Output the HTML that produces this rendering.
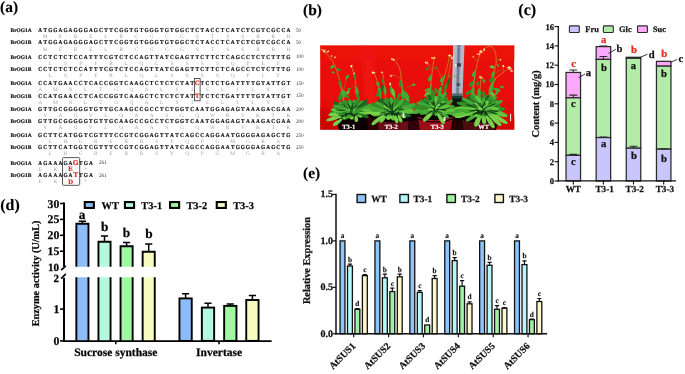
<!DOCTYPE html>
<html lang="en"><head><meta charset="utf-8"><title>Figure</title>
<style>
html,body{margin:0;padding:0;background:#fff;}
body{width:685px;height:374px;overflow:hidden;}
svg{display:block;}
text{font-family:"Liberation Serif","Times New Roman",serif;font-weight:bold;fill:#111;text-rendering:geometricPrecision;}
.pl{font-size:15.4px;fill:#000;stroke:#000;stroke-width:0.15px;}
.ct,.cx,.cy,.cl,.cb,.dt,.dx,.dy,.dl,.db,.et,.ex,.ey,.el{stroke:#111;stroke-width:0.25px;}
.cr{stroke:#f0281c;stroke-width:0.25px;}
.eb{stroke:#111;stroke-width:0.15px;}
.sq,.sl{stroke:#111;stroke-width:0.2px;}
.sqr,.sqR,.aaR{stroke:#e8201c;stroke-width:0.2px;}
.sl{font-size:5.4px;fill:#111;}
.sq{font-size:6.1px;text-anchor:middle;fill:#111;}
.sqr{font-size:6.6px;text-anchor:middle;fill:#e8201c;}
.sqR{font-size:7.4px;text-anchor:middle;fill:#e8201c;}
.aa{font-size:5.4px;text-anchor:middle;font-weight:normal;fill:#a2a2a2;}
.aaR{font-size:6.7px;text-anchor:middle;fill:#e8201c;}
.nm{font-size:5.2px;font-weight:normal;fill:#333;}
.ct{font-size:8.6px;text-anchor:end;}
.cx{font-size:9.2px;text-anchor:middle;}
.cy{font-size:10.4px;text-anchor:middle;}
.cl{font-size:8.4px;}
.cr{font-size:10.6px;text-anchor:middle;fill:#f0281c;}
.cb{font-size:10.6px;text-anchor:middle;}
.dt{font-size:11.8px;text-anchor:end;fill:#000;}
.dx{font-size:11.5px;text-anchor:middle;fill:#000;}
.dy{font-size:10.3px;text-anchor:middle;fill:#000;}
.dl{font-size:10.4px;fill:#000;}
.db{font-size:13.3px;text-anchor:middle;fill:#000;}
.et{font-size:10px;text-anchor:end;}
.ex{font-size:9.7px;text-anchor:end;}
.ey{font-size:10.3px;text-anchor:middle;}
.el{font-size:9.4px;}
.eb{font-size:7.3px;text-anchor:middle;}
.ph{font-size:6.5px;fill:#fff;text-anchor:middle;stroke:#fff;stroke-width:0.2px;}
</style></head><body>
<svg width="685" height="374" viewBox="0 0 685 374">
<rect x="0" y="0" width="685" height="374" fill="#fff"/>
<g id="panel-a">
<text class="pl" x="0.1" y="11.6">(a)</text>
<text class="sl" x="10.6" y="31.9">BrOG1A</text>
<text class="sq" transform="scale(0.87 1)" y="31.9" x="46.15 51.97 57.8 63.62 69.45 75.27 81.09 86.92 92.74 98.57 104.39 110.21 116.04 121.86 127.69 133.51 139.34 145.16 150.98 156.81 162.63 168.46 174.28 180.1 185.93 191.75 197.58 203.4 209.23 215.05 220.87 226.7 232.52 238.35 244.17 249.99 255.82 261.64 267.47 273.29 279.11 284.94 290.76 296.59 302.41 308.24 314.06 319.88 325.71 331.53">ATGGAGAGGGAGCTTCGGTGTGGGTGTGGCTCTACCTCATCTCGTCGCCA</text>
<text class="aa" y="38" x="45.22 60.42 75.62 90.82 106.02 121.22 136.42 151.62 166.83 182.03 197.23 212.43 227.63 242.83 258.03 273.23 288.43">MERELRCGCGSTSSRRH</text>
<text class="nm" x="295.9" y="31.7">50</text>
<text class="sl" x="10.6" y="44.4">BrOG1B</text>
<text class="sq" transform="scale(0.87 1)" y="44.4" x="46.15 51.97 57.8 63.62 69.45 75.27 81.09 86.92 92.74 98.57 104.39 110.21 116.04 121.86 127.69 133.51 139.34 145.16 150.98 156.81 162.63 168.46 174.28 180.1 185.93 191.75 197.58 203.4 209.23 215.05 220.87 226.7 232.52 238.35 244.17 249.99 255.82 261.64 267.47 273.29 279.11 284.94 290.76 296.59 302.41 308.24 314.06 319.88 325.71 331.53">ATGGAGAGGGAGCTTCGGTGTGGGTGTGGCTCTACCTCATCTCGTCGCCA</text>
<text class="aa" y="50.5" x="45.22 60.42 75.62 90.82 106.02 121.22 136.42 151.62 166.83 182.03 197.23 212.43 227.63 242.83 258.03 273.23 288.43">MERELRCGCGSTSSRRH</text>
<text class="nm" x="295.9" y="44.2">50</text>
<text class="sl" x="10.6" y="58.6">BrOG1A</text>
<text class="sq" transform="scale(0.87 1)" y="58.6" x="46.15 51.97 57.8 63.62 69.45 75.27 81.09 86.92 92.74 98.57 104.39 110.21 116.04 121.86 127.69 133.51 139.34 145.16 150.98 156.81 162.63 168.46 174.28 180.1 185.93 191.75 197.58 203.4 209.23 215.05 220.87 226.7 232.52 238.35 244.17 249.99 255.82 261.64 267.47 273.29 279.11 284.94 290.76 296.59 302.41 308.24 314.06 319.88 325.71 331.53">CCTCTCTCCATTTCGTCTCCAGTTATCGAGTTCTTCTCAGCCTCTCTTTG</text>
<text class="aa" y="64.7" x="50.28 65.48 80.69 95.89 111.09 126.29 141.49 156.69 171.89 187.09 202.29 217.5 232.7 247.9 263.1 278.3">LSPFRLQLSSSSQPLF</text>
<text class="nm" x="295.9" y="58.4">100</text>
<text class="sl" x="10.6" y="71.1">BrOG1B</text>
<text class="sq" transform="scale(0.87 1)" y="71.1" x="46.15 51.97 57.8 63.62 69.45 75.27 81.09 86.92 92.74 98.57 104.39 110.21 116.04 121.86 127.69 133.51 139.34 145.16 150.98 156.81 162.63 168.46 174.28 180.1 185.93 191.75 197.58 203.4 209.23 215.05 220.87 226.7 232.52 238.35 244.17 249.99 255.82 261.64 267.47 273.29 279.11 284.94 290.76 296.59 302.41 308.24 314.06 319.88 325.71 331.53">CCTCTCTCCATTTCGTCTCCAGTTATCGAGTTCTTCTCAGCCTCTCTTTG</text>
<text class="aa" y="77.2" x="50.28 65.48 80.69 95.89 111.09 126.29 141.49 156.69 171.89 187.09 202.29 217.5 232.7 247.9 263.1 278.3">LSPFRLQLSSSSQPLF</text>
<text class="nm" x="295.9" y="70.9">100</text>
<text class="sl" x="10.6" y="85.1">BrOG1A</text>
<text class="sq" transform="scale(0.87 1)" y="85.1" x="46.15 51.97 57.8 63.62 69.45 75.27 81.09 86.92 92.74 98.57 104.39 110.21 116.04 121.86 127.69 133.51 139.34 145.16 150.98 156.81 162.63 168.46 174.28 180.1 185.93 191.75 197.58 203.4 209.23 215.05 220.87 226.7 232.52 238.35 244.17 249.99 255.82 261.64 267.47 273.29 279.11 284.94 290.76 296.59 302.41 308.24 314.06 319.88 325.71 331.53">CCATGAACCTCACCGGTCAAGCTCTCTCTAT&#160;TCTCTGATTTTGTATTGT</text>
<text class="sqr" x="197.23" y="85.1">C</text>
<text class="aa" y="91.2" x="40.15 55.35 70.55 85.75 100.95 116.16 131.36 146.56 161.76 176.96 192.16 207.36 222.56 237.76 252.96 268.17 283.37">AMNLTGQALSISLILYC</text>
<text class="nm" x="295.9" y="84.9">150</text>
<text class="sl" x="10.6" y="97.6">BrOG1B</text>
<text class="sq" transform="scale(0.87 1)" y="97.6" x="46.15 51.97 57.8 63.62 69.45 75.27 81.09 86.92 92.74 98.57 104.39 110.21 116.04 121.86 127.69 133.51 139.34 145.16 150.98 156.81 162.63 168.46 174.28 180.1 185.93 191.75 197.58 203.4 209.23 215.05 220.87 226.7 232.52 238.35 244.17 249.99 255.82 261.64 267.47 273.29 279.11 284.94 290.76 296.59 302.41 308.24 314.06 319.88 325.71 331.53">CCATGAACCTCACCGGTCAAGCTCTCTCTAT&#160;TCTCTGATTTTGTATTGT</text>
<text class="sqr" x="197.23" y="97.6">T</text>
<text class="aa" y="103.7" x="40.15 55.35 70.55 85.75 100.95 116.16 131.36 146.56 161.76 176.96 192.16 207.36 222.56 237.76 252.96 268.17 283.37">AMNLTGQALSISLILYC</text>
<text class="nm" x="295.9" y="97.4">150</text>
<text class="sl" x="10.6" y="110.8">BrOG1A</text>
<text class="sq" transform="scale(0.87 1)" y="110.8" x="46.15 51.97 57.8 63.62 69.45 75.27 81.09 86.92 92.74 98.57 104.39 110.21 116.04 121.86 127.69 133.51 139.34 145.16 150.98 156.81 162.63 168.46 174.28 180.1 185.93 191.75 197.58 203.4 209.23 215.05 220.87 226.7 232.52 238.35 244.17 249.99 255.82 261.64 267.47 273.29 279.11 284.94 290.76 296.59 302.41 308.24 314.06 319.88 325.71 331.53">GTTGCGGGGGTGTTGCAAGCCGCCTCTGGTCAATGGAGAGTAAAGACGAA</text>
<text class="aa" y="116.9" x="45.22 60.42 75.62 90.82 106.02 121.22 136.42 151.62 166.83 182.03 197.23 212.43 227.63 242.83 258.03 273.23 288.43">VAGVLQAASGQWRVKTK</text>
<text class="nm" x="295.9" y="110.6">200</text>
<text class="sl" x="10.6" y="123.3">BrOG1B</text>
<text class="sq" transform="scale(0.87 1)" y="123.3" x="46.15 51.97 57.8 63.62 69.45 75.27 81.09 86.92 92.74 98.57 104.39 110.21 116.04 121.86 127.69 133.51 139.34 145.16 150.98 156.81 162.63 168.46 174.28 180.1 185.93 191.75 197.58 203.4 209.23 215.05 220.87 226.7 232.52 238.35 244.17 249.99 255.82 261.64 267.47 273.29 279.11 284.94 290.76 296.59 302.41 308.24 314.06 319.88 325.71 331.53">GTTGCGGGGGTGTTGCAAGCCGCCTCTGGTCAATGGAGAGTAAAGACGAA</text>
<text class="aa" y="129.4" x="45.22 60.42 75.62 90.82 106.02 121.22 136.42 151.62 166.83 182.03 197.23 212.43 227.63 242.83 258.03 273.23 288.43">VAGVLQAASGQWRVKTK</text>
<text class="nm" x="295.9" y="123.1">200</text>
<text class="sl" x="10.6" y="136.8">BrOG1A</text>
<text class="sq" transform="scale(0.87 1)" y="136.8" x="46.15 51.97 57.8 63.62 69.45 75.27 81.09 86.92 92.74 98.57 104.39 110.21 116.04 121.86 127.69 133.51 139.34 145.16 150.98 156.81 162.63 168.46 174.28 180.1 185.93 191.75 197.58 203.4 209.23 215.05 220.87 226.7 232.52 238.35 244.17 249.99 255.82 261.64 267.47 273.29 279.11 284.94 290.76 296.59 302.41 308.24 314.06 319.88 325.71 331.53">GCTTCATGGTCGTTTCCGTCGGAGTTATCAGCCAGGAATGGGGAGAGCTG</text>
<text class="aa" y="142.9" x="50.28 65.48 80.69 95.89 111.09 126.29 141.49 156.69 171.89 187.09 202.29 217.5 232.7 247.9 263.1 278.3">LHGRFRRSYQPGMGRA</text>
<text class="nm" x="295.9" y="136.6">250</text>
<text class="sl" x="10.6" y="149.3">BrOG1B</text>
<text class="sq" transform="scale(0.87 1)" y="149.3" x="46.15 51.97 57.8 63.62 69.45 75.27 81.09 86.92 92.74 98.57 104.39 110.21 116.04 121.86 127.69 133.51 139.34 145.16 150.98 156.81 162.63 168.46 174.28 180.1 185.93 191.75 197.58 203.4 209.23 215.05 220.87 226.7 232.52 238.35 244.17 249.99 255.82 261.64 267.47 273.29 279.11 284.94 290.76 296.59 302.41 308.24 314.06 319.88 325.71 331.53">GCTTCATGGTCGTTTCCGTCGGAGTTATCAGCCAGGAATGGGGAGAGCTG</text>
<text class="aa" y="155.4" x="50.28 65.48 80.69 95.89 111.09 126.29 141.49 156.69 171.89 187.09 202.29 217.5 232.7 247.9 263.1 278.3">LHGRFRRSYQPGMGRA</text>
<text class="nm" x="295.9" y="149.1">250</text>
<text class="sl" x="10.6" y="164.6">BrOG1A</text>
<text class="sq" transform="scale(0.87 1)" y="164.6" x="46.15 51.97 57.8 63.62 69.45 75.27 81.09 86.92 92.74 98.57 104.39">AGAAAGA&#160;TGA</text>
<text class="sqR" x="75.62" y="164.9">G</text>
<text class="aa" y="170.7" x="40.15 55.35 85.75">EK*</text>
<text class="aaR" x="70.55" y="171.4">E</text>
<text class="nm" x="98.9" y="164.4">261</text>
<text class="sl" x="10.6" y="177.1">BrOG1B</text>
<text class="sq" transform="scale(0.87 1)" y="177.1" x="46.15 51.97 57.8 63.62 69.45 75.27 81.09 86.92 92.74 98.57 104.39">AGAAAGA&#160;TGA</text>
<text class="sqR" x="75.62" y="177.4">T</text>
<text class="aa" y="183.2" x="40.15 55.35 85.75">EK*</text>
<text class="aaR" x="70.55" y="183.9">D</text>
<text class="nm" x="98.9" y="176.9">261</text>
<rect x="194.5" y="78.4" width="5.6" height="22.4" fill="none" stroke="#333" stroke-width="0.8"/>
<rect x="62.5" y="157.6" width="17.2" height="27.7" rx="1" fill="none" stroke="#444" stroke-width="0.9"/>
</g>
<g id="panel-b">
<text class="pl" x="303.0" y="14.6">(b)</text>
<defs>
<linearGradient id="redbg" x1="0" y1="0" x2="0" y2="1"><stop offset="0" stop-color="#ea0f0c"/><stop offset="0.6" stop-color="#e80d0a"/><stop offset="1" stop-color="#d60a08"/></linearGradient>
<clipPath id="phclip"><rect x="320.1" y="45.3" width="194.2" height="84.5"/></clipPath>
<filter id="bl" x="-10%" y="-10%" width="120%" height="120%"><feGaussianBlur stdDeviation="0.5"/></filter>
<filter id="bl2" x="-30%" y="-30%" width="160%" height="160%"><feGaussianBlur stdDeviation="2"/></filter>
</defs>
<g clip-path="url(#phclip)">
<rect x="320.1" y="45.3" width="194.2" height="84.5" fill="url(#redbg)"/>
<g filter="url(#bl)">
<path d="M361 45L373 45L379 130L367 130Z" fill="#fa2a22" opacity="0.3" filter="url(#bl2)"/>
<path d="M320 45H515V60H320Z" fill="#f01410" opacity="0.3"/>
<path d="M318 106L342 117L342 132L318 132Z" fill="#c00606" opacity="0.6" filter="url(#bl2)"/>
<path d="M497 121L516 116V132H497Z" fill="#cc0a08" opacity="0.5" filter="url(#bl2)"/>
<path d="M453.3 45L464.5 45L462.3 101L451.9 101Z" fill="#b2b8ca"/>
<path d="M457.6 45L460.2 45L458.6 100L456.2 100Z" fill="#6c748c" opacity="0.75"/>
<path d="M453.3 45L454.6 45L453.1 100L451.9 100Z" fill="#c8ccd8" opacity="0.8"/>
<path d="M457.1 46.5H460.7" stroke="#4a5270" stroke-width="0.7" opacity="0.6"/>
<path d="M457 48.6H460.6" stroke="#4a5270" stroke-width="0.7" opacity="0.6"/>
<path d="M456.9 50.7H460.5" stroke="#4a5270" stroke-width="0.7" opacity="0.6"/>
<path d="M456.9 52.8H460.5" stroke="#4a5270" stroke-width="0.7" opacity="0.6"/>
<path d="M456.8 54.9H460.4" stroke="#4a5270" stroke-width="0.7" opacity="0.6"/>
<path d="M456.7 57H460.3" stroke="#4a5270" stroke-width="0.7" opacity="0.6"/>
<path d="M456.7 59.1H460.3" stroke="#4a5270" stroke-width="0.7" opacity="0.6"/>
<path d="M456.6 61.2H460.2" stroke="#4a5270" stroke-width="0.7" opacity="0.6"/>
<path d="M456.6 63.3H460.2" stroke="#4a5270" stroke-width="0.7" opacity="0.6"/>
<path d="M456.5 65.4H460.1" stroke="#4a5270" stroke-width="0.7" opacity="0.6"/>
<path d="M456.4 67.5H460" stroke="#4a5270" stroke-width="0.7" opacity="0.6"/>
<path d="M456.4 69.6H460" stroke="#4a5270" stroke-width="0.7" opacity="0.6"/>
<path d="M456.3 71.7H459.9" stroke="#4a5270" stroke-width="0.7" opacity="0.6"/>
<path d="M456.2 73.8H459.8" stroke="#4a5270" stroke-width="0.7" opacity="0.6"/>
<path d="M456.2 75.9H459.8" stroke="#4a5270" stroke-width="0.7" opacity="0.6"/>
<path d="M456.1 78H459.7" stroke="#4a5270" stroke-width="0.7" opacity="0.6"/>
<path d="M456 80.1H459.6" stroke="#4a5270" stroke-width="0.7" opacity="0.6"/>
<path d="M456 82.2H459.6" stroke="#4a5270" stroke-width="0.7" opacity="0.6"/>
<path d="M455.9 84.3H459.5" stroke="#4a5270" stroke-width="0.7" opacity="0.6"/>
<path d="M455.9 86.4H459.5" stroke="#4a5270" stroke-width="0.7" opacity="0.6"/>
<path d="M455.8 88.5H459.4" stroke="#4a5270" stroke-width="0.7" opacity="0.6"/>
<path d="M455.7 90.6H459.3" stroke="#4a5270" stroke-width="0.7" opacity="0.6"/>
<path d="M455.7 92.7H459.3" stroke="#4a5270" stroke-width="0.7" opacity="0.6"/>
<path d="M455.6 94.8H459.2" stroke="#4a5270" stroke-width="0.7" opacity="0.6"/>
<path d="M455.5 96.9H459.1" stroke="#4a5270" stroke-width="0.7" opacity="0.6"/>
<path d="M455.5 99H459.1" stroke="#4a5270" stroke-width="0.7" opacity="0.6"/>
<rect x="457" y="63.2" width="4" height="3.4" fill="#2c3048" opacity="0.85"/>
<rect x="456.6" y="83" width="3.6" height="3" fill="#2c3048" opacity="0.6"/>
<path d="M452.1 93.5L462.4 93.5L462.2 100L451.9 100Z" fill="#4a6a68"/>
<path d="M452 96L462.3 96L462 108L451.8 108Z" fill="#163a30"/>
<path d="M452 98.5L462.2 98.5L462 112L451.8 112Z" fill="#0a1410"/>
<path d="M337 119Q345 113 356 112L480 111Q492 112 498 119L496 131H339Z" fill="#0a0505"/>
<path d="M366 117L378 119L380 131H369Z" fill="#2c0506"/>
<path d="M377.5 121Q393 124.5 409 121L407.5 131H379Z" fill="#6a0c12"/>
<path d="M409.5 121L417.5 120L419.5 131H408Z" fill="#300608"/>
<path d="M418 119.5Q435 126 452.5 119.5L450.5 131H420Z" fill="#9c1018"/>
<path d="M417.5 117.5Q435 124.5 453 117.5" fill="none" stroke="#c01c24" stroke-width="1"/>
<path d="M453 120L461.5 121L463.5 131H451Z" fill="#260506"/>
<path d="M462 120Q479 125 496 120L494 131H464Z" fill="#4c0a0e"/>
<path d="M322.9 50.4C324.4 52 329.7 56.5 332 60C334.3 63.5 335.5 67.5 336.8 71.3C338.1 75 339.5 80.6 340 82.5" fill="none" stroke="#d07c24" stroke-width="0.9" stroke-linecap="round"/>
<path d="M340 82.5C340.4 84.4 341.8 90.5 342.5 93.7C343.2 97 343.8 100.6 344 102" fill="none" stroke="#74a832" stroke-width="1.3" stroke-linecap="round"/>
<path d="M342.3 93C342.8 91.7 344.3 87.5 345 85C345.7 82.5 346.2 78.9 346.5 77.7" fill="none" stroke="#5a9a2c" stroke-width="0.6" stroke-linecap="round"/>
<path d="M351.3 65.7C351.8 67.4 353.7 72.4 354.5 76C355.3 79.6 355.8 85.4 356.1 87.3" fill="none" stroke="#d07c24" stroke-width="0.9" stroke-linecap="round"/>
<path d="M356.1 87.3L358.2 101" fill="none" stroke="#74a832" stroke-width="1.3" stroke-linecap="round"/>
<path d="M356 88C355.4 87.7 353.3 86.7 352.5 86C351.7 85.3 351.2 84.3 351 84" fill="none" stroke="#5a9a2c" stroke-width="0.5" stroke-linecap="round"/>
<path d="M330 68.6C332.4 69.2 335.7 67.2 334.4 65.5C333.3 63.7 330.3 66.1 330 68.6Z" fill="#44aa34"/>
<path d="M336.2 68.4C336.8 70.5 339.8 72.2 340.6 70.4C341.4 68.8 338.2 67.5 336.2 68.4Z" fill="#33902c"/>
<path d="M335 73.2C334.5 71.5 332.1 70.5 331.6 72C331 73.4 333.5 74.1 335 73.2Z" fill="#44aa34"/>
<path d="M345.5 79.5C347.8 79.1 350.2 76.1 348.6 75.1C347.1 73.9 345.1 77.2 345.5 79.5Z" fill="#44aa34"/>
<path d="M339.2 79.5C337.8 82.1 338.9 87.2 341.1 86.5C343.3 86 341.7 81.1 339.2 79.5Z" fill="#33902c"/>
<path d="M343.2 89.5C342 92.6 343.8 98.4 346.1 97.4C348.5 96.7 346.2 91.1 343.2 89.5Z" fill="#44aa34"/>
<path d="M341.5 95C339.1 96.1 337.4 100 339.4 100.6C341.4 101.5 342.6 97.3 341.5 95Z" fill="#33902c"/>
<path d="M354.3 73.5C353 75.6 353.5 79.9 355.3 79.4C357.2 79.2 356.3 75 354.3 73.5Z" fill="#33902c"/>
<path d="M355.8 86C354.2 88.8 355 94.8 357.3 94.3C359.6 94 358.3 88.1 355.8 86Z" fill="#44aa34"/>
<path d="M351 88.3C349.5 87.4 347 88.2 347.6 89.5C348.1 90.9 350.4 89.9 351 88.3Z" fill="#44aa34"/>
<circle cx="321.9" cy="49.5" r="0.8" fill="#e8c860"/>
<circle cx="324.1" cy="51.8" r="0.5" fill="#f6e9a8"/>
<circle cx="323.8" cy="51" r="0.9" fill="#f2d878"/>
<circle cx="324.6" cy="51.8" r="0.8" fill="#fff4d0"/>
<circle cx="323" cy="50.3" r="0.6" fill="#f6e9a8"/>
<circle cx="325" cy="50" r="0.7" fill="#f6e9a8"/>
<circle cx="327.1" cy="52" r="0.8" fill="#e8c860"/>
<circle cx="328.6" cy="51.2" r="0.7" fill="#fff4d0"/>
<circle cx="327.2" cy="51.6" r="0.6" fill="#f2d878"/>
<circle cx="331.7" cy="56.1" r="0.6" fill="#f6e9a8"/>
<circle cx="331.5" cy="55.9" r="0.7" fill="#f2d878"/>
<circle cx="335" cy="57.8" r="0.5" fill="#f2d878"/>
<circle cx="335" cy="57.2" r="0.8" fill="#fff4d0"/>
<circle cx="351.8" cy="65.8" r="0.7" fill="#fff4d0"/>
<circle cx="351.3" cy="66.4" r="0.7" fill="#f2d878"/>
<circle cx="351.6" cy="67.1" r="0.6" fill="#e8c860"/>
<circle cx="351.7" cy="65.9" r="0.6" fill="#e8c860"/>
<circle cx="351.2" cy="66.1" r="0.9" fill="#f6e9a8"/>
<circle cx="354.4" cy="73.1" r="0.6" fill="#fff4d0"/>
<circle cx="353.7" cy="73.8" r="0.6" fill="#fff4d0"/>
<path d="M373.8 72.1C374.5 73.8 376.7 79.2 377.8 82.5C378.9 85.8 379.8 90.5 380.2 92.1" fill="none" stroke="#d07c24" stroke-width="0.9" stroke-linecap="round"/>
<path d="M380.2 92.1L381 102" fill="none" stroke="#74a832" stroke-width="1.3" stroke-linecap="round"/>
<path d="M382.6 72.1C382.9 74.4 383.8 81.2 384.3 85.7C384.9 90.2 385.6 96.8 385.9 99" fill="none" stroke="#b4a030" stroke-width="0.7" stroke-linecap="round"/>
<path d="M393.6 59.2C394.6 60.7 398.2 64.4 399.5 68C400.8 71.6 401.2 78.8 401.6 80.9" fill="none" stroke="#d07c24" stroke-width="0.9" stroke-linecap="round"/>
<path d="M401.6 80.9C401.8 83 402.5 90.4 402.7 93.7C402.9 97 402.7 99.8 402.7 101" fill="none" stroke="#74a832" stroke-width="1.3" stroke-linecap="round"/>
<path d="M389.9 83.3C390.4 84.8 392.1 88.9 393 92C393.9 95.1 395.1 100.3 395.5 102" fill="none" stroke="#b4a030" stroke-width="0.7" stroke-linecap="round"/>
<path d="M390.7 75.3C391.6 75.4 394.4 75.4 396 76C397.6 76.6 399.8 78.5 400.6 79" fill="none" stroke="#d07c24" stroke-width="0.5" stroke-linecap="round"/>
<path d="M403.2 91C404 90.3 406.4 88 408 87C409.6 86 412.2 85.2 413.1 84.9" fill="none" stroke="#5a9a2c" stroke-width="0.6" stroke-linecap="round"/>
<path d="M396.5 60L399 57.5" fill="none" stroke="#d07c24" stroke-width="0.5" stroke-linecap="round"/>
<path d="M377.2 80.5C375.7 82.6 376.2 86.9 378.2 86.4C380.3 86.2 379.3 81.9 377.2 80.5Z" fill="#44aa34"/>
<path d="M381.4 84C379.8 86.7 380.9 91.7 383.3 91C385.7 90.4 384.1 85.5 381.4 84Z" fill="#1c6622"/>
<path d="M383.5 78C381.8 79.2 381 82.5 382.7 82.7C384.3 83.1 384.7 79.7 383.5 78Z" fill="#33902c"/>
<path d="M390.4 86.5C388.9 89.9 390.8 96.1 393.5 95C396.3 94.1 393.8 88.1 390.4 86.5Z" fill="#44aa34"/>
<path d="M400.2 79.5C398.4 81.8 398.5 87 400.8 86.7C403.1 86.6 402.4 81.5 400.2 79.5Z" fill="#33902c"/>
<path d="M403.5 90.5C402.8 94.5 406.2 101 408.6 99.3C411.2 98 407.3 91.8 403.5 90.5Z" fill="#44aa34"/>
<path d="M411.5 85.6C413.3 86.7 416.2 85.9 415.4 84.2C414.9 82.4 412.1 83.6 411.5 85.6Z" fill="#44aa34"/>
<circle cx="373" cy="72.9" r="0.8" fill="#f6e9a8"/>
<circle cx="374.1" cy="72.4" r="0.6" fill="#f2d878"/>
<circle cx="372.6" cy="72.5" r="0.9" fill="#f6e9a8"/>
<circle cx="374.9" cy="72.8" r="0.5" fill="#fff4d0"/>
<circle cx="374" cy="72.6" r="0.7" fill="#f2d878"/>
<circle cx="381.5" cy="72.5" r="0.6" fill="#fff4d0"/>
<circle cx="381.9" cy="72.3" r="0.8" fill="#f6e9a8"/>
<circle cx="393.8" cy="59.5" r="0.8" fill="#f6e9a8"/>
<circle cx="391.9" cy="58.9" r="0.8" fill="#fff4d0"/>
<circle cx="392" cy="59.7" r="0.6" fill="#f2d878"/>
<circle cx="393.4" cy="59.2" r="0.5" fill="#f6e9a8"/>
<circle cx="393.3" cy="60.5" r="0.6" fill="#f6e9a8"/>
<circle cx="390.5" cy="83.4" r="0.6" fill="#e8c860"/>
<circle cx="390.3" cy="84.9" r="0.6" fill="#fff4d0"/>
<circle cx="389.6" cy="84.2" r="0.6" fill="#fff4d0"/>
<circle cx="390.8" cy="83.8" r="0.5" fill="#e8c860"/>
<circle cx="390.1" cy="83.2" r="0.8" fill="#f2d878"/>
<circle cx="390.8" cy="76" r="0.9" fill="#f2d878"/>
<circle cx="391.8" cy="75.5" r="0.7" fill="#e8c860"/>
<path d="M434 58.4C433.8 60.3 433 65.4 432.5 69.7C432 74 431.2 81.7 430.9 84.1" fill="none" stroke="#d07c24" stroke-width="0.9" stroke-linecap="round"/>
<path d="M430.9 84.1L430 101" fill="none" stroke="#74a832" stroke-width="1.3" stroke-linecap="round"/>
<path d="M432.3 71C431.8 70 429.9 66.4 429 65C428.1 63.6 427.2 62.8 426.8 62.4" fill="none" stroke="#d07c24" stroke-width="0.5" stroke-linecap="round"/>
<path d="M449.3 55.2C449 56.8 448.5 61.4 447.7 64.9C446.9 68.4 445 74.2 444.5 76" fill="none" stroke="#d07c24" stroke-width="0.9" stroke-linecap="round"/>
<path d="M444.5 76C444 77.9 442.4 83.6 441.3 87.3C440.2 91 438.6 96.2 438 98" fill="none" stroke="#74a832" stroke-width="1.3" stroke-linecap="round"/>
<path d="M451.7 56.8C451.2 60 449.7 70 448.5 76C447.3 82 445.2 90.2 444.5 93" fill="none" stroke="#b4a030" stroke-width="0.6" stroke-linecap="round"/>
<path d="M446 76C447.2 76 450.6 76.1 453 76.3C455.4 76.5 459.2 76.9 460.5 77" fill="none" stroke="#5a9a2c" stroke-width="0.5" stroke-linecap="round"/>
<path d="M436.5 67.3C437 68.2 438.6 71.1 439.5 73C440.4 74.9 441.6 77.6 442 78.5" fill="none" stroke="#d07c24" stroke-width="0.5" stroke-linecap="round"/>
<path d="M431.6 74C428.9 75.5 426.7 80.7 428.9 81.3C431 82.3 432.7 76.9 431.6 74Z" fill="#44aa34"/>
<path d="M428.2 66.5C426.5 67.2 425.3 70 426.8 70.4C428.2 71.1 429.1 68.2 428.2 66.5Z" fill="#33902c"/>
<path d="M430.5 88C427.9 87.4 423.6 89.5 424.8 91.3C425.7 93.2 429.7 90.6 430.5 88Z" fill="#44aa34"/>
<path d="M434.5 87.5C433.8 90 435.7 93.9 437.5 92.7C439.4 91.8 437 88.1 434.5 87.5Z" fill="#33902c"/>
<path d="M441.3 85C438.9 86.8 437.7 91.8 440 92.1C442.3 92.6 442.9 87.5 441.3 85Z" fill="#1c6622"/>
<path d="M442.4 76.5C440.3 77.8 439 81.9 440.8 82.3C442.6 82.9 443.6 78.7 442.4 76.5Z" fill="#44aa34"/>
<path d="M448.5 78.5C446.7 80.1 446.1 84.4 448 84.5C449.8 84.8 450 80.4 448.5 78.5Z" fill="#1c6622"/>
<path d="M444 90C442.9 92.3 444.1 96.5 446.1 95.6C448.1 95 446.4 91.1 444 90Z" fill="#33902c"/>
<path d="M436.3 66C434.7 66.6 433.7 68.9 435.1 69.4C436.4 70 437.2 67.5 436.3 66Z" fill="#33902c"/>
<circle cx="432" cy="57.9" r="0.9" fill="#f2d878"/>
<circle cx="433.1" cy="57.6" r="0.6" fill="#e8c860"/>
<circle cx="434.9" cy="57.4" r="0.7" fill="#fff4d0"/>
<circle cx="433.5" cy="58.4" r="0.7" fill="#f2d878"/>
<circle cx="434" cy="58.3" r="0.9" fill="#e8c860"/>
<circle cx="427.9" cy="62" r="0.6" fill="#f2d878"/>
<circle cx="427.2" cy="63.8" r="0.6" fill="#f2d878"/>
<circle cx="427.1" cy="63" r="0.7" fill="#f6e9a8"/>
<circle cx="425.7" cy="62.5" r="0.9" fill="#f6e9a8"/>
<circle cx="450.5" cy="55.6" r="0.6" fill="#f6e9a8"/>
<circle cx="449.8" cy="55.8" r="0.9" fill="#f6e9a8"/>
<circle cx="449.5" cy="54.8" r="0.5" fill="#fff4d0"/>
<circle cx="451.7" cy="56.2" r="0.6" fill="#f2d878"/>
<circle cx="448.6" cy="55.6" r="0.5" fill="#f6e9a8"/>
<circle cx="451.6" cy="58.2" r="0.7" fill="#f2d878"/>
<circle cx="451.4" cy="58.3" r="0.9" fill="#e8c860"/>
<circle cx="452.7" cy="57.7" r="0.8" fill="#f6e9a8"/>
<circle cx="452.8" cy="58.2" r="0.6" fill="#fff4d0"/>
<circle cx="455.8" cy="65.2" r="0.6" fill="#fff4d0"/>
<circle cx="455.6" cy="66.4" r="0.8" fill="#f2d878"/>
<circle cx="455.6" cy="65" r="0.9" fill="#fff4d0"/>
<circle cx="460.4" cy="76.5" r="0.7" fill="#fff4d0"/>
<circle cx="460.7" cy="76.6" r="0.6" fill="#e8c860"/>
<path d="M480.9 51.2C480.4 52.9 478.6 58 477.7 61.6C476.8 65.2 475.7 71 475.3 72.9" fill="none" stroke="#d07c24" stroke-width="0.9" stroke-linecap="round"/>
<path d="M475.3 72.9C475 74.8 474.2 79.8 473.6 84.1C473.1 88.4 472.3 96.5 472 99" fill="none" stroke="#74a832" stroke-width="1.3" stroke-linecap="round"/>
<path d="M486 47.5C486.8 47.4 489.4 45.9 491 46.6C492.6 47.4 494.4 49.2 495.3 52C496.2 54.8 496.4 59.5 496.1 63.3C495.8 67 494.1 72.6 493.7 74.5" fill="none" stroke="#d07c24" stroke-width="0.9" stroke-linecap="round"/>
<path d="M493.7 74.5C493.3 76.4 492.1 81.6 491.3 85.7C490.5 89.8 489.3 96.8 488.9 99" fill="none" stroke="#74a832" stroke-width="1.3" stroke-linecap="round"/>
<path d="M509.7 67.3C508.5 68.2 504.9 71 502.5 72.9C500.1 74.8 496.5 77.6 495.3 78.5" fill="none" stroke="#d07c24" stroke-width="0.9" stroke-linecap="round"/>
<path d="M495.3 78.5L492 85.7" fill="none" stroke="#74a832" stroke-width="1.3" stroke-linecap="round"/>
<path d="M480.9 76.9C480.8 78.9 480.4 85 480 89C479.6 93 478.8 99 478.5 101" fill="none" stroke="#b4a030" stroke-width="0.7" stroke-linecap="round"/>
<path d="M477.7 61.6C477.2 61.1 475.4 59.4 474.5 58.5C473.6 57.6 472.9 56.8 472.6 56.5" fill="none" stroke="#d07c24" stroke-width="0.5" stroke-linecap="round"/>
<path d="M495.9 62C496.2 61.7 497.3 60.4 498 60C498.7 59.6 499.7 59.6 500 59.5" fill="none" stroke="#d07c24" stroke-width="0.5" stroke-linecap="round"/>
<path d="M493 75C493.7 74.5 495.8 72.8 497 72C498.2 71.2 499.9 70.8 500.5 70.5" fill="none" stroke="#5a9a2c" stroke-width="0.5" stroke-linecap="round"/>
<path d="M503 72.5C503.1 71.8 503.5 69.2 503.5 68C503.5 66.8 503.1 65.9 503 65.5" fill="none" stroke="#d07c24" stroke-width="0.5" stroke-linecap="round"/>
<path d="M475.2 70.5C472.6 71.7 470.7 76 472.9 76.7C475.1 77.6 476.4 73.1 475.2 70.5Z" fill="#44aa34"/>
<path d="M473.4 80.5C470.5 81.3 467.7 85.7 469.8 86.7C471.7 88 474.1 83.4 473.4 80.5Z" fill="#33902c"/>
<path d="M489.2 66.8C490.7 68.8 494.5 69.4 494.6 67.3C494.9 65.2 491 65.1 489.2 66.8Z" fill="#60c43e"/>
<path d="M493.6 71C491.2 72.6 490.2 77.2 492.5 77.5C494.7 78 495.3 73.3 493.6 71Z" fill="#44aa34"/>
<path d="M492.6 77C489.9 77.9 488.1 81.9 490.5 82.6C492.9 83.6 494.1 79.5 492.6 77Z" fill="#33902c"/>
<path d="M492.8 83C489.4 84.9 487.4 91.1 490.5 91.7C493.5 92.7 494.8 86.3 492.8 83Z" fill="#44aa34"/>
<path d="M493.5 88.5C494.8 91.2 499.6 93.2 500.3 91C501.2 88.8 496.2 87.3 493.5 88.5Z" fill="#44aa34"/>
<path d="M478.2 81C476.3 82.1 475.5 85.5 477.4 85.7C479.2 86.1 479.6 82.7 478.2 81Z" fill="#33902c"/>
<path d="M482.5 78.5C481.9 80.5 483.5 83.6 484.9 82.7C486.4 81.9 484.5 79 482.5 78.5Z" fill="#44aa34"/>
<path d="M499.5 86.5C500.5 88.2 503.4 88.9 503.6 87.2C504 85.6 501 85.3 499.5 86.5Z" fill="#44aa34"/>
<path d="M474.2 93C471.2 93.8 468.3 98.1 470.6 99.2C472.7 100.6 475.1 96 474.2 93Z" fill="#33902c"/>
<path d="M479.5 90C478 92.1 478.5 96.4 480.5 95.9C482.6 95.7 481.6 91.4 479.5 90Z" fill="#33902c"/>
<path d="M497 63.5C496.5 65 497.7 67.4 498.8 66.6C500 66 498.6 63.8 497 63.5Z" fill="#44aa34"/>
<circle cx="481.1" cy="52.3" r="0.6" fill="#fff4d0"/>
<circle cx="482.1" cy="52" r="0.7" fill="#f6e9a8"/>
<circle cx="480.9" cy="50.8" r="0.8" fill="#f6e9a8"/>
<circle cx="479.9" cy="51.7" r="0.9" fill="#f2d878"/>
<circle cx="480.8" cy="51.8" r="0.8" fill="#f2d878"/>
<circle cx="481.2" cy="51.6" r="0.6" fill="#f2d878"/>
<circle cx="484.6" cy="49.4" r="0.6" fill="#f6e9a8"/>
<circle cx="484.1" cy="49.2" r="0.9" fill="#f6e9a8"/>
<circle cx="484.1" cy="50.2" r="0.9" fill="#f2d878"/>
<circle cx="479.6" cy="53.9" r="0.6" fill="#fff4d0"/>
<circle cx="477.5" cy="54" r="0.8" fill="#f6e9a8"/>
<circle cx="479" cy="54.5" r="0.7" fill="#fff4d0"/>
<circle cx="473.5" cy="56.4" r="0.6" fill="#f2d878"/>
<circle cx="473.1" cy="57" r="0.6" fill="#e8c860"/>
<circle cx="509.3" cy="69" r="0.9" fill="#f6e9a8"/>
<circle cx="507.1" cy="67.4" r="0.6" fill="#e8c860"/>
<circle cx="509.9" cy="67.4" r="0.9" fill="#f2d878"/>
<circle cx="509" cy="67.2" r="0.9" fill="#fff4d0"/>
<circle cx="510.9" cy="68.6" r="0.8" fill="#f2d878"/>
<circle cx="509.2" cy="68.4" r="0.7" fill="#e8c860"/>
<circle cx="512.3" cy="71.4" r="0.6" fill="#e8c860"/>
<circle cx="511.5" cy="70.5" r="0.9" fill="#f6e9a8"/>
<circle cx="510.8" cy="71.3" r="0.5" fill="#e8c860"/>
<circle cx="503.1" cy="66.2" r="0.9" fill="#f2d878"/>
<circle cx="503.5" cy="65.3" r="0.6" fill="#e8c860"/>
<circle cx="503.7" cy="66.1" r="0.7" fill="#fff4d0"/>
<circle cx="500.7" cy="59.5" r="0.7" fill="#f2d878"/>
<circle cx="500.3" cy="60" r="0.7" fill="#f6e9a8"/>
<circle cx="482" cy="77.7" r="0.9" fill="#e8c860"/>
<circle cx="480.1" cy="77.2" r="0.9" fill="#f2d878"/>
<circle cx="480.1" cy="76.1" r="0.6" fill="#f2d878"/>
<circle cx="480.4" cy="77.5" r="0.7" fill="#f2d878"/>
<path d="M343.6 99C345.1 95.8 344.2 89 341.9 89.5C339.6 89.8 341.1 96.5 343.6 99Z" fill="#44aa34"/>
<path d="M340.8 92C338.5 94.2 337.2 100.1 339.3 100.3C341.4 100.8 342.2 94.8 340.8 92Z" fill="#33902c"/>
<path d="M345.5 96.5C348 95.5 350.8 91.1 349.1 90.3C347.5 89.2 345.1 93.8 345.5 96.5Z" fill="#60c43e"/>
<path d="M357.6 98C359.4 95 359 88 356.8 88.4C354.4 88.4 355.3 95.3 357.6 98Z" fill="#44aa34"/>
<path d="M356.6 93C355.6 95.7 357.1 100.6 359.1 99.8C361.1 99.2 359.1 94.4 356.6 93Z" fill="#33902c"/>
<path d="M349 99C349.5 96.6 347.6 92.8 346 93.8C344.3 94.6 346.7 98.3 349 99Z" fill="#33902c"/>
<path d="M380.6 97C382.1 93.8 381.2 87 378.9 87.5C376.6 87.8 378.1 94.5 380.6 97Z" fill="#44aa34"/>
<path d="M379.5 90C377 91.4 375 96.2 377 96.8C379 97.6 380.5 92.7 379.5 90Z" fill="#33902c"/>
<path d="M385.5 96C387.1 93 386.7 86.1 384.7 86.4C382.6 86.4 383.4 93.3 385.5 96Z" fill="#44aa34"/>
<path d="M394.8 98C396 94.7 394.5 87.9 392.3 88.7C390 89.1 392.1 95.7 394.8 98Z" fill="#60c43e"/>
<path d="M402.7 99C404.7 96.5 405 90.4 402.7 90.6C400.4 90.4 400.7 96.5 402.7 99Z" fill="#44aa34"/>
<path d="M403.4 95.5C403.6 98.9 407.7 103.3 409.3 101.4C411.2 99.8 406.8 95.7 403.4 95.5Z" fill="#44aa34"/>
<path d="M398 99C400.2 97.9 401.9 93.9 400.1 93.4C398.3 92.6 397 96.7 398 99Z" fill="#33902c"/>
<path d="M430.2 98C432.1 95.1 432.2 88.1 429.9 88.4C427.5 88.3 428.1 95.2 430.2 98Z" fill="#44aa34"/>
<path d="M429.5 91C426.7 91.5 423.2 95.3 424.9 96.5C426.4 98 429.5 93.9 429.5 91Z" fill="#60c43e"/>
<path d="M438.6 96C441.3 93.7 443.4 87.1 441.1 86.7C438.9 85.9 437.4 92.7 438.6 96Z" fill="#44aa34"/>
<path d="M444.8 92C447.1 89.9 448.6 84.1 446.5 83.8C444.5 83.2 443.5 89.1 444.8 92Z" fill="#33902c"/>
<path d="M441.5 92.5C438.8 93.8 436.8 98.6 439 99.3C441.2 100.2 442.7 95.2 441.5 92.5Z" fill="#44aa34"/>
<path d="M435 97C435.8 94.4 434.3 89.5 432.5 90.2C430.7 90.7 432.7 95.5 435 97Z" fill="#33902c"/>
<path d="M472.3 97C474.8 94.3 475.7 87.5 473.1 87.4C470.6 87 470.3 93.9 472.3 97Z" fill="#44aa34"/>
<path d="M471.6 90C468.6 89.8 464.5 93 466.1 94.6C467.5 96.5 471.3 93 471.6 90Z" fill="#33902c"/>
<path d="M478.8 98C480.9 95.2 481.5 88.3 479.1 88.4C476.8 88.1 476.9 95.1 478.8 98Z" fill="#44aa34"/>
<path d="M489.4 96.5C492.2 93.7 493.8 86.1 491.3 85.9C488.8 85.2 487.8 92.9 489.4 96.5Z" fill="#44aa34"/>
<path d="M490.8 91C490.1 93.9 492.5 98.5 494.4 97.2C496.5 96.2 493.7 91.8 490.8 91Z" fill="#60c43e"/>
<path d="M484 98C485.5 95.7 485.2 90.5 483.4 90.8C481.5 90.8 482.1 96 484 98Z" fill="#33902c"/>
<path d="M495 96C497.3 95.3 499.7 91.6 498 90.8C496.4 89.8 494.5 93.6 495 96Z" fill="#44aa34"/>
<path d="M349.5 111.4C344.8 111 336.7 115.4 338.4 117.8C339.8 120.6 347.5 115.6 349.5 111.4Z" fill="#44aa34"/>
<path d="M348.8 111.3C343.2 110.9 331.4 114.7 332.5 117C333 119.5 344.6 115.1 348.8 111.3Z" fill="#44aa34"/>
<path d="M348.4 110.8C342.4 109.4 328.8 110.9 329.4 113.3C329.4 115.7 343 113.7 348.4 110.8Z" fill="#33902c"/>
<path d="M348.6 110.5C343.2 107.8 330.3 107.4 330.7 110.4C330.3 113.4 343.2 113.1 348.6 110.5Z" fill="#1c6622"/>
<path d="M348.8 109.9C344.4 106.4 332.7 103.1 332.4 105.8C331.4 108.3 343.3 111 348.8 109.9Z" fill="#33902c"/>
<path d="M348.9 109.5C345.2 105.4 334.2 99.8 333.4 102.2C332.1 104.2 343.3 109.2 348.9 109.5Z" fill="#1c6622"/>
<path d="M349.5 109.5C347.5 105.7 340 100.3 338.9 102.5C337.3 104.4 345.2 109.2 349.5 109.5Z" fill="#44aa34"/>
<path d="M349.9 109.4C348.9 105.3 343.1 99 341.5 101C339.6 102.6 345.8 108.4 349.9 109.4Z" fill="#33902c"/>
<path d="M350.3 109.4C350.9 105.5 347.4 99.3 345.1 101C342.6 102.3 346.6 108.2 350.3 109.4Z" fill="#44aa34"/>
<path d="M350.6 109.4C351.9 106 350 100 347.4 101.2C344.8 102 347.3 107.8 350.6 109.4Z" fill="#1c6622"/>
<path d="M350.8 109.4C352.6 106.6 351.9 100.8 349.5 101.4C346.9 101.6 348.2 107.4 350.8 109.4Z" fill="#33902c"/>
<path d="M350.9 109.3C353 106.6 352.9 100.4 350.5 100.7C348 100.7 348.6 106.9 350.9 109.3Z" fill="#1c6622"/>
<path d="M351.3 109.4C354.5 107.5 356.2 101.7 353.2 101.2C350.2 100.3 349.2 106.3 351.3 109.4Z" fill="#1c6622"/>
<path d="M351.5 109.2C354.5 107.1 357.3 100.4 354.9 99.7C352.7 98.7 350.5 105.6 351.5 109.2Z" fill="#44aa34"/>
<path d="M351.8 109.4C355.3 108.2 359.7 102.6 357.7 101.3C355.8 99.7 351.8 105.7 351.8 109.4Z" fill="#33902c"/>
<path d="M352.1 109.5C355.9 108.7 361.6 103.5 359.8 101.9C358.2 100 352.9 105.6 352.1 109.5Z" fill="#33902c"/>
<path d="M352.3 109.5C356.9 109.2 364 104 361.9 101.8C360.2 99.3 353.5 105.1 352.3 109.5Z" fill="#33902c"/>
<path d="M352.6 109.7C357.2 109.8 366 105.8 364.6 103.8C363.8 101.5 355.3 106 352.6 109.7Z" fill="#44aa34"/>
<path d="M353.2 109.9C358.8 110.8 370.6 107.8 369.5 105.3C369.1 102.6 357.5 106.2 353.2 109.9Z" fill="#33902c"/>
<path d="M353.5 110.5C358.9 112.9 372.1 113.3 371.7 110.7C372.1 108 359 108.2 353.5 110.5Z" fill="#44aa34"/>
<path d="M353.2 110.7C358 113.4 369.8 114.9 369.7 112.4C370.3 109.9 358.4 109 353.2 110.7Z" fill="#33902c"/>
<path d="M353.1 111.3C356.9 115.5 368 120.2 368.7 117.5C370 115 358.7 110.9 353.1 111.3Z" fill="#1c6622"/>
<path d="M349.1 112.2C344.2 111.3 334.2 114.6 335.5 117.2C336.2 120 345.9 116.1 349.1 112.2Z" fill="#33902c"/>
<path d="M348.5 111.8C342.7 110.1 329.6 111.5 330.3 114.1C330.2 116.9 343.3 114.9 348.5 111.8Z" fill="#44aa34"/>
<path d="M348.8 111.1C344.3 107.9 332.6 105.8 332.5 108.6C331.8 111.2 343.5 112.8 348.8 111.1Z" fill="#33902c"/>
<path d="M349.5 110.8C347.2 107.2 339.5 103.2 338.6 105.7C337.2 107.9 345.2 111.4 349.5 110.8Z" fill="#33902c"/>
<path d="M349.6 110.6C347.6 106.9 340.4 102.2 339.3 104.4C337.9 106.4 345.4 110.6 349.6 110.6Z" fill="#60c43e"/>
<path d="M350.2 110.6C350.3 107.2 346.5 102.3 344.7 104C342.8 105.4 346.9 110 350.2 110.6Z" fill="#44aa34"/>
<path d="M350.6 110.6C351.7 107.7 349.9 103 347.6 104.2C345.3 105.1 347.7 109.6 350.6 110.6Z" fill="#44aa34"/>
<path d="M350.9 110.8C352.9 108.7 352.5 104.7 349.9 105.3C347.2 105.6 348.2 109.5 350.9 110.8Z" fill="#33902c"/>
<path d="M351 110.6C353.5 108.5 353.8 103.6 351 103.7C348.3 103.6 348.6 108.5 351 110.6Z" fill="#44aa34"/>
<path d="M351.2 110.7C353.8 109.3 355.2 105 352.8 104.5C350.4 103.8 349.6 108.3 351.2 110.7Z" fill="#44aa34"/>
<path d="M351.5 110.7C354.6 110 357.3 105.8 354.8 104.6C352.4 103.1 350.3 107.6 351.5 110.7Z" fill="#44aa34"/>
<path d="M351.7 110.8C354.8 110.7 358.5 107 356.5 105.4C354.8 103.6 351.5 107.7 351.7 110.8Z" fill="#60c43e"/>
<path d="M352 110.7C355.9 111.1 361.6 107.3 359.7 105.1C358.2 102.7 352.9 107 352 110.7Z" fill="#60c43e"/>
<path d="M352.4 110.8C356.6 111.5 364.3 108.4 363 106.1C362.1 103.6 354.6 107.3 352.4 110.8Z" fill="#33902c"/>
<path d="M353.2 111.1C358.5 112.4 370.2 110.4 369.4 107.8C369.2 105.1 357.6 107.8 353.2 111.1Z" fill="#44aa34"/>
<path d="M353.1 111.6C357.4 114.3 368.2 115.3 368.1 112.7C368.6 110.1 357.7 109.6 353.1 111.6Z" fill="#44aa34"/>
<ellipse cx="351" cy="110" rx="16" ry="7.5" fill="#1c6622"/>
<ellipse cx="349" cy="113" rx="12" ry="5.5" fill="#0e3a14"/>
<ellipse cx="360" cy="107" rx="9" ry="5.5" fill="#1c6622"/>
<path d="M350 109C349.6 105 344.8 98.7 343 100.5C340.9 101.9 346.2 107.9 350 109Z" fill="#33902c"/>
<path d="M351 108C352.6 105.1 351.8 98.9 349.5 99.5C347.1 99.7 348.5 105.8 351 108Z" fill="#44aa34"/>
<path d="M353 108C356.3 106.7 359.8 101.1 357.5 100C355.4 98.6 352.4 104.5 353 108Z" fill="#33902c"/>
<path d="M355 109C359.4 108.5 366.1 103 364 101C362.2 98.6 356 104.7 355 109Z" fill="#44aa34"/>
<path d="M356 110C361.1 108.5 369.9 101.2 368 99.5C366.6 97.4 358.1 105.2 356 110Z" fill="#1c6622"/>
<path d="M349 110C346.8 106.2 339 101.7 338 104C336.6 106.1 344.6 110.2 349 110Z" fill="#33902c"/>
<path d="M347 110C343.8 106.7 334.5 103.2 334 105.5C333 107.7 342.4 110.6 347 110Z" fill="#44aa34"/>
<path d="M355 111C360 112 370.1 109.1 369 106.5C368.4 103.7 358.4 107.3 355 111Z" fill="#33902c"/>
<path d="M345 112C341.2 109.1 331.2 107 331 109.5C330.3 111.9 340.4 113.4 345 112Z" fill="#60c43e"/>
<path d="M344 114C339.2 112.1 328 112.5 328.5 115C328.4 117.5 339.5 116.5 344 114Z" fill="#78d24a"/>
<path d="M342 116.5C336.8 115.6 325.5 118.2 326.4 120.4C326.7 122.8 337.8 119.7 342 116.5Z" fill="#78d24a"/>
<path d="M343 118.5C338.7 118.6 331.5 123.4 333.2 125.4C334.5 127.7 341.4 122.5 343 118.5Z" fill="#78d24a"/>
<path d="M346 113.5C343.1 111.4 335.9 110.8 336 113C335.7 115.2 342.9 115.3 346 113.5Z" fill="#44aa34"/>
<path d="M351 112C350.8 108.6 346.7 104.1 345 106C343.1 107.7 347.6 111.8 351 112Z" fill="#60c43e"/>
<path d="M352 113C355.1 111.5 358.2 105.9 356 105C354 103.8 351.3 109.7 352 113Z" fill="#60c43e"/>
<path d="M350 113C348.1 110 341.7 106.9 341 109C339.9 111 346.5 113.6 350 113Z" fill="#44aa34"/>
<path d="M352 114C355.3 114.7 361.2 112 360 110C359.1 107.8 353.5 110.9 352 114Z" fill="#44aa34"/>
<path d="M351 114C353.1 112.2 354.1 107.2 352 107C349.9 106.6 349.5 111.6 351 114Z" fill="#1c6622"/>
<path d="M350 114.5C346.6 113.9 341.4 116.9 343 119C344.3 121.3 349.2 117.8 350 114.5Z" fill="#60c43e"/>
<path d="M352 115C349.3 116.1 348.6 119.3 351.5 119.5C354.4 119.9 354.4 116.6 352 115Z" fill="#78d24a"/>
<path d="M353 115.5C350.1 114.4 344.3 115.8 345 117.8C345.4 119.9 351.1 118 353 115.5Z" fill="#44aa34"/>
<path d="M356 115C353.8 117.3 353.9 122.3 356.5 122C359.2 122 358.5 116.9 356 115Z" fill="#78d24a"/>
<path d="M357 114C357.4 116.8 360.8 119.2 362 117C363.4 114.9 359.6 113 357 114Z" fill="#60c43e"/>
<path d="M358 113C363 115.4 374.4 114.7 373.8 111.5C373.8 108.3 362.5 109.7 358 113Z" fill="#78d24a"/>
<path d="M357 112C361.4 113 370.9 110.7 370 108.5C369.6 106.1 360.4 108.9 357 112Z" fill="#60c43e"/>
<path d="M390.6 110.9C386 110.8 378.2 115.3 380 117.6C381.3 120.1 388.7 115 390.6 110.9Z" fill="#44aa34"/>
<path d="M389.7 110.7C384 109.9 371.9 113.2 373.1 115.7C373.5 118.4 385.4 114.5 389.7 110.7Z" fill="#33902c"/>
<path d="M390 110.3C385.3 108.8 374.6 110.1 375.2 112.4C375.3 114.8 385.9 113 390 110.3Z" fill="#33902c"/>
<path d="M389.8 109.8C385.3 107.1 373.9 105.7 374 108.3C373.5 110.7 384.9 111.5 389.8 109.8Z" fill="#33902c"/>
<path d="M389.8 109.3C385.5 105.6 373.7 101.8 373.3 104.5C372.2 107 384.1 110.2 389.8 109.3Z" fill="#44aa34"/>
<path d="M390.3 109.2C387.6 105.4 378.8 100.9 377.9 103.3C376.5 105.6 385.6 109.5 390.3 109.2Z" fill="#44aa34"/>
<path d="M390.4 108.8C388.4 103.9 379.9 97.2 378.3 99.8C376.3 102.1 385.1 108.2 390.4 108.8Z" fill="#1c6622"/>
<path d="M390.6 108.6C389 104 381.7 96.5 380.1 98.5C378.2 100.1 385.9 107.2 390.6 108.6Z" fill="#1c6622"/>
<path d="M391.1 108.6C391.1 104.4 386.7 97.1 384.6 98.7C382.3 99.9 387.2 106.9 391.1 108.6Z" fill="#44aa34"/>
<path d="M391.4 108.6C392.2 104.5 389.1 96.9 386.7 98.2C384.1 99.1 387.8 106.4 391.4 108.6Z" fill="#33902c"/>
<path d="M391.7 108.8C393.5 105.4 392.2 98.8 389.5 99.6C386.7 100.1 388.6 106.6 391.7 108.8Z" fill="#1c6622"/>
<path d="M391.9 108.6C394.4 105.5 394.5 98.4 391.5 98.7C388.5 98.6 389.2 105.8 391.9 108.6Z" fill="#33902c"/>
<path d="M392.2 108.8C395.1 106.5 396.5 100.1 393.8 99.8C391.1 99.1 390.3 105.7 392.2 108.8Z" fill="#33902c"/>
<path d="M392.5 108.7C395.8 106.5 398.8 99.6 396.3 98.8C393.9 97.7 391.4 104.9 392.5 108.7Z" fill="#44aa34"/>
<path d="M392.7 108.8C396.2 107.4 400.2 101.4 398 100.3C396.1 98.9 392.5 105.1 392.7 108.8Z" fill="#44aa34"/>
<path d="M393 108.8C397 107.9 402.4 102.1 400.2 100.4C398.2 98.4 393.2 104.7 393 108.8Z" fill="#33902c"/>
<path d="M393.6 108.9C398.6 108.7 407.2 103.1 405.2 100.8C403.6 98.1 395.5 104.2 393.6 108.9Z" fill="#1c6622"/>
<path d="M393.8 109.1C398.8 109.2 408.3 104.8 406.9 102.5C406 100.1 396.7 105.1 393.8 109.1Z" fill="#33902c"/>
<path d="M394.3 109.4C400 110.3 412.2 107.4 411.2 105C410.9 102.4 398.8 105.8 394.3 109.4Z" fill="#1c6622"/>
<path d="M394.6 109.8C400.5 111.5 414.1 110.6 413.6 108.2C413.7 105.6 400.1 107.1 394.6 109.8Z" fill="#44aa34"/>
<path d="M394.4 110.3C399.4 113.5 412 115.5 412 112.6C412.8 109.8 400 108.5 394.4 110.3Z" fill="#33902c"/>
<path d="M394.3 110.8C398.4 115 410.3 119.4 411 116.3C412.3 113.6 400.1 109.9 394.3 110.8Z" fill="#1c6622"/>
<path d="M390.4 111.5C386.2 110.5 377.5 112.7 378.4 114.9C378.9 117.3 387.4 114.6 390.4 111.5Z" fill="#44aa34"/>
<path d="M390.3 111.3C386 109.4 376.7 110.5 377.4 113.3C377.6 116.1 386.8 114.4 390.3 111.3Z" fill="#60c43e"/>
<path d="M390.3 110.7C386.9 107.8 377.8 105.9 377.6 108.5C376.9 111 386.1 112.3 390.3 110.7Z" fill="#44aa34"/>
<path d="M390.2 110.3C387.1 106.4 377.6 102.6 376.8 105.6C375.5 108.3 385.3 111.4 390.2 110.3Z" fill="#44aa34"/>
<path d="M391 110.2C390.3 106.4 385.1 102.1 383.5 104.6C381.5 106.9 387.1 110.7 391 110.2Z" fill="#60c43e"/>
<path d="M391.2 110.2C391.4 106.5 387.6 101.9 385.5 104C383.2 105.9 387.6 110.1 391.2 110.2Z" fill="#44aa34"/>
<path d="M391.5 110C392.5 106.9 390.3 101.6 388.1 102.9C385.7 103.9 388.5 108.9 391.5 110Z" fill="#44aa34"/>
<path d="M391.7 110C393.7 107 392.6 101.5 389.7 102.5C386.7 103.2 388.5 108.4 391.7 110Z" fill="#33902c"/>
<path d="M392 110.1C394.4 108.1 394.6 103.4 391.8 103.6C388.9 103.6 389.4 108.3 392 110.1Z" fill="#44aa34"/>
<path d="M392.2 110C394.6 108.3 395.8 103.3 393.4 103.1C391.1 102.5 390.4 107.6 392.2 110Z" fill="#60c43e"/>
<path d="M392.5 110.1C395.7 109.1 398.5 104.2 396.1 103.1C393.8 101.7 391.5 106.9 392.5 110.1Z" fill="#33902c"/>
<path d="M392.7 110.1C396.3 109.7 400.4 105.2 398.2 103.5C396.2 101.6 392.5 106.6 392.7 110.1Z" fill="#60c43e"/>
<path d="M393.3 110.1C397.5 110.2 404.5 105.8 402.8 103.6C401.4 101.2 394.8 106.2 393.3 110.1Z" fill="#44aa34"/>
<path d="M393.9 110.1C399 110.3 409.1 106.1 407.7 103.8C406.9 101.3 397.1 106.1 393.9 110.1Z" fill="#44aa34"/>
<path d="M393.8 110.8C398.1 113.1 407.8 112.6 407.2 109.6C407.2 106.6 397.6 107.9 393.8 110.8Z" fill="#33902c"/>
<path d="M394 111.2C398.2 113.9 408.9 115.3 408.9 112.9C409.5 110.5 398.7 109.6 394 111.2Z" fill="#33902c"/>
<ellipse cx="392" cy="109.5" rx="17" ry="8" fill="#1c6622"/>
<ellipse cx="391" cy="113" rx="13" ry="5.5" fill="#0e3a14"/>
<ellipse cx="403" cy="106" rx="8" ry="5" fill="#1c6622"/>
<path d="M391 108C390.7 103.9 385.8 97.3 384 99C381.9 100.4 387.1 106.7 391 108Z" fill="#33902c"/>
<path d="M392 107C393.9 103.8 393.5 96.5 391 97C388.5 97.1 389.5 104.2 392 107Z" fill="#44aa34"/>
<path d="M393 107C396.5 105.4 400.3 99 398 98C395.9 96.6 392.5 103.2 393 107Z" fill="#33902c"/>
<path d="M395 108C399.4 107.3 406.1 101.4 404 99.5C402.3 97.3 396 103.6 395 108Z" fill="#44aa34"/>
<path d="M397 109C402.2 108.7 411.7 103.2 410 101C408.8 98.5 399.6 104.5 397 109Z" fill="#33902c"/>
<path d="M389 109C386.8 105.1 379.1 100.5 378 103C376.5 105.2 384.6 109.3 389 109Z" fill="#33902c"/>
<path d="M388 110C385.2 105.8 376 99.8 375 102C373.5 103.9 383 109.4 388 110Z" fill="#44aa34"/>
<path d="M397 110C402.1 111.2 413 108.6 412 106C411.6 103.2 400.9 106.4 397 110Z" fill="#60c43e"/>
<path d="M398 112C402.9 114 414.1 113.3 413.5 110.5C413.5 107.7 402.4 109.1 398 112Z" fill="#60c43e"/>
<path d="M387 111C383 107.7 372.2 105.2 372 108C371.2 110.7 382 112.5 387 111Z" fill="#60c43e"/>
<path d="M386 112.5C381.1 110.4 370 111.1 370.6 114C370.6 117 381.6 115.5 386 112.5Z" fill="#78d24a"/>
<path d="M385 114C379.5 115.4 369.9 123 371.8 124.8C373.2 127.1 382.5 119.1 385 114Z" fill="#78d24a"/>
<path d="M386 115.5C382.4 116 377.9 120.8 380 122.4C381.9 124.3 386 119.1 386 115.5Z" fill="#78d24a"/>
<path d="M391 111C390.3 107.6 385.4 103.1 384 105C382.3 106.7 387.5 110.8 391 111Z" fill="#60c43e"/>
<path d="M393 111C395.9 109.9 399 105 397 104C395.1 102.7 392.5 107.9 393 111Z" fill="#60c43e"/>
<path d="M392 112C393.2 109.3 392 103.8 390 104.5C387.9 104.9 389.6 110.2 392 112Z" fill="#1c6622"/>
<path d="M394 113C397.7 113.3 404.3 110 403 108C402 105.8 395.7 109.7 394 113Z" fill="#44aa34"/>
<path d="M390 113C387.7 110.6 381.3 108.9 381 111C380.4 113 386.9 114.2 390 113Z" fill="#44aa34"/>
<path d="M391 114C387.6 114 384.4 117.8 387 119.5C389.4 121.4 392 117.3 391 114Z" fill="#78d24a"/>
<path d="M393 114.5C390.3 116.5 390.3 120.9 393.5 120.5C396.7 120.4 396 116.1 393 114.5Z" fill="#60c43e"/>
<path d="M395 115C393.5 118.1 394.9 124.1 397.4 123.2C400 122.6 398 116.8 395 115Z" fill="#78d24a"/>
<path d="M398 114.5C397.1 117.8 399.6 123.7 401.8 122.4C404.1 121.5 401.2 115.9 398 114.5Z" fill="#78d24a"/>
<path d="M399 113.5C400 116.6 404.9 119.8 406 117.5C407.4 115.4 402.2 112.8 399 113.5Z" fill="#60c43e"/>
<path d="M390 115.5C387.4 117.4 387.7 119.7 391 118.5C394.3 117.5 393.2 115.4 390 115.5Z" fill="#78d24a"/>
<rect x="402.6" y="112.8" width="1.7" height="5.2" fill="#e8f0e0"/>
<path d="M433.9 108.7C430.4 108.6 424.6 112.1 426.1 113.9C427.2 116 432.7 112 433.9 108.7Z" fill="#1c6622"/>
<path d="M433.4 108.6C429.2 108.1 420.6 111 421.6 113C422.2 115.2 430.6 111.8 433.4 108.6Z" fill="#33902c"/>
<path d="M432.6 108.4C427 107 414.2 108.6 414.9 111C414.9 113.5 427.6 111.3 432.6 108.4Z" fill="#33902c"/>
<path d="M432.5 107.8C427.3 105.3 414.3 104.1 414.5 106.5C414 108.9 427 109.6 432.5 107.8Z" fill="#33902c"/>
<path d="M433.1 107.2C429.6 103.9 419.7 99.7 419.2 101.7C418.1 103.6 428.2 107.3 433.1 107.2Z" fill="#44aa34"/>
<path d="M433.2 107C430.3 103 420.9 97.6 420.1 99.8C418.7 101.7 428.3 106.6 433.2 107Z" fill="#33902c"/>
<path d="M433.6 106.8C431.8 102.5 424.4 96 423.1 98C421.3 99.7 429 105.8 433.6 106.8Z" fill="#1c6622"/>
<path d="M434 106.4C433.5 101.9 428.3 93.4 426.6 94.9C424.5 95.9 430 104.1 434 106.4Z" fill="#33902c"/>
<path d="M434.2 106.4C434.3 102 430.4 93.6 428.4 94.9C426.3 95.7 430.6 103.9 434.2 106.4Z" fill="#1c6622"/>
<path d="M434.7 106.4C436.2 102.4 434.9 93.8 432.5 94.5C430.1 94.7 431.9 103.2 434.7 106.4Z" fill="#33902c"/>
<path d="M434.9 106.6C436.9 103.3 436.9 95.7 434.6 96C432.2 95.9 432.8 103.5 434.9 106.6Z" fill="#33902c"/>
<path d="M435.3 106.6C437.8 104.1 439.7 97 437.6 96.7C435.6 96.1 434.2 103.3 435.3 106.6Z" fill="#33902c"/>
<path d="M435.6 106.5C438.9 104 442.4 96.3 440.1 95.6C438 94.5 435 102.4 435.6 106.5Z" fill="#33902c"/>
<path d="M436.3 106.4C441 104.4 448 96.3 445.8 94.9C443.9 92.9 437.3 101.5 436.3 106.4Z" fill="#33902c"/>
<path d="M436.6 106.7C441.5 105.7 449.9 99.3 448 97.4C446.6 95.2 438.5 102.1 436.6 106.7Z" fill="#33902c"/>
<path d="M436.6 107C441.3 106.7 449.8 101.5 448.1 99.5C447 97.1 438.8 102.8 436.6 107Z" fill="#33902c"/>
<path d="M436.8 107.5C441.4 108.2 451 105.6 450.1 103.5C449.7 101.2 440.2 104.3 436.8 107.5Z" fill="#33902c"/>
<path d="M437.4 107.8C442.8 109.3 455.5 108.5 454.9 106.3C455.1 104 442.5 105.4 437.4 107.8Z" fill="#44aa34"/>
<path d="M437 108.1C441.3 110.5 451.8 111.5 451.6 109.1C452.1 106.8 441.5 106.4 437 108.1Z" fill="#1c6622"/>
<path d="M436.6 108.5C439.5 111.5 447.9 114.6 448.4 112.5C449.3 110.5 440.7 107.9 436.6 108.5Z" fill="#1c6622"/>
<path d="M433.7 109.6C429.9 109.1 422.8 111.9 423.9 113.9C424.7 116.1 431.6 112.7 433.7 109.6Z" fill="#33902c"/>
<path d="M432.8 109.2C427.7 107.6 416 108.3 416.5 110.4C416.3 112.6 428 111.4 432.8 109.2Z" fill="#60c43e"/>
<path d="M433 108.5C429.2 105.1 418.8 102 418.4 104.7C417.5 107.1 428 109.6 433 108.5Z" fill="#44aa34"/>
<path d="M433.6 108.3C431.6 104.9 424.5 101.1 423.6 103.4C422.3 105.6 429.6 108.9 433.6 108.3Z" fill="#33902c"/>
<path d="M434 108.1C433.4 104.5 428.5 99.4 426.9 101.4C425 103.1 430.4 107.7 434 108.1Z" fill="#33902c"/>
<path d="M434.4 107.9C434.9 104.7 432.1 98.9 430.2 100.1C428.2 101 431.4 106.5 434.4 107.9Z" fill="#44aa34"/>
<path d="M434.7 108.2C436.2 105.8 435.1 101.3 432.9 102.2C430.6 102.8 432.2 107 434.7 108.2Z" fill="#33902c"/>
<path d="M435 108.1C437.3 106 437.5 101.1 434.9 101.3C432.3 101.2 432.7 106.1 435 108.1Z" fill="#60c43e"/>
<path d="M435.2 108.1C437.9 106.5 439.3 101.6 436.8 101.2C434.4 100.5 433.5 105.5 435.2 108.1Z" fill="#44aa34"/>
<path d="M435.6 108C438.7 106.8 441.9 101.5 439.6 100.5C437.5 99.1 434.8 104.7 435.6 108Z" fill="#44aa34"/>
<path d="M436.1 108.1C439.7 107.6 445.5 103 443.9 101.4C442.7 99.6 437.2 104.6 436.1 108.1Z" fill="#60c43e"/>
<path d="M436.4 108.1C440.7 108.2 448.3 104 446.8 101.9C445.6 99.6 438.3 104.3 436.4 108.1Z" fill="#60c43e"/>
<path d="M436.6 108.7C440.6 109.9 449.2 108.4 448.5 106.1C448.2 103.7 439.7 105.8 436.6 108.7Z" fill="#33902c"/>
<path d="M437 109.1C441.3 111.3 451.8 112.3 451.6 110.1C452.1 108 441.5 107.5 437 109.1Z" fill="#44aa34"/>
<ellipse cx="435" cy="108" rx="14" ry="6" fill="#1c6622"/>
<ellipse cx="436" cy="111" rx="10" ry="4.5" fill="#0e3a14"/>
<path d="M433 107C428.6 103.6 416.7 100.2 416.4 102.6C415.5 104.8 427.5 107.7 433 107Z" fill="#44aa34"/>
<path d="M432 108C426.3 105.3 411.9 103.1 412 105.4C411.3 107.6 425.7 109.2 432 108Z" fill="#33902c"/>
<path d="M432 109C426.7 107.4 414.5 108.2 415 110.5C414.9 112.9 427.1 111.5 432 109Z" fill="#60c43e"/>
<path d="M434 106C432.1 102.3 425.1 97 424 99C422.5 100.7 429.9 105.5 434 106Z" fill="#33902c"/>
<path d="M435 106C437.5 103.3 438.8 96.1 436.4 96C434.1 95.5 433.3 102.7 435 106Z" fill="#60c43e"/>
<path d="M436 106C440.7 103.3 447.7 94 445.5 92.8C443.6 91.1 437 100.7 436 106Z" fill="#44aa34"/>
<path d="M437 107C440 104.7 443.2 97.6 441 97C439 96 436.4 103.3 437 107Z" fill="#33902c"/>
<path d="M438 108C443.5 107.7 454.3 102.4 452.8 100.3C451.9 97.9 441.4 103.7 438 108Z" fill="#44aa34"/>
<path d="M438 109C442.2 109.9 450.9 107.6 450 105.5C449.6 103.3 441 106 438 109Z" fill="#60c43e"/>
<path d="M433 110C428.5 109.2 419 111.8 420 114C420.4 116.4 429.7 113.2 433 110Z" fill="#44aa34"/>
<path d="M434 111C428.9 112.1 420.9 119.2 423.2 121.2C425.1 123.6 432.6 116 434 111Z" fill="#78d24a"/>
<path d="M436 111C436.4 116.2 442.2 125.6 444.4 123.8C446.9 122.5 440.6 113.5 436 111Z" fill="#78d24a"/>
<path d="M437 110.5C441.1 113.6 451.8 116 452 113.5C452.8 111.1 441.9 109.2 437 110.5Z" fill="#60c43e"/>
<path d="M438 111C440.2 114.9 447.9 120.1 449 118C450.5 116.1 442.4 111.3 438 111Z" fill="#44aa34"/>
<path d="M435 108C434.4 105.1 430.2 101.3 429 103C427.5 104.5 432 107.9 435 108Z" fill="#60c43e"/>
<path d="M435 109.5C437.9 109.1 441.7 105.3 440 104C438.5 102.5 435.1 106.6 435 109.5Z" fill="#78d24a"/>
<path d="M434 110C432.5 107.9 428.2 106.9 428 109C427.5 111.1 431.9 111.5 434 110Z" fill="#78d24a"/>
<path d="M436 110C433.9 111.8 433.6 116.1 436 116C438.4 116.1 438.1 111.8 436 110Z" fill="#44aa34"/>
<path d="M448 112.5C451.5 115.9 461.5 119.3 462 116.8C463 114.5 452.9 111.7 448 112.5Z" fill="#60c43e"/>
<path d="M446 110C449.8 111.5 458.5 110.7 458 108.5C458 106.2 449.4 107.6 446 110Z" fill="#44aa34"/>
<rect x="443.4" y="117" width="2.2" height="4" fill="#d8f0d0"/>
<path d="M480.5 109.4C476.1 109.5 468 113.9 469.5 116C470.5 118.2 478.3 113.3 480.5 109.4Z" fill="#44aa34"/>
<path d="M479.6 109.3C473.6 108.9 461 113 462.2 115.5C462.8 118.2 475.2 113.5 479.6 109.3Z" fill="#44aa34"/>
<path d="M479.1 108.9C472.5 107.7 457.2 109.5 457.9 111.8C457.8 114.3 473 111.9 479.1 108.9Z" fill="#33902c"/>
<path d="M479 108.4C472.5 106 456.7 105.4 457 108.1C456.6 110.8 472.4 110.7 479 108.4Z" fill="#33902c"/>
<path d="M479 107.8C472.8 104 456.9 100.1 456.8 102.7C455.7 105.1 471.8 108.5 479 107.8Z" fill="#33902c"/>
<path d="M479.4 107.5C474.6 103.4 461.2 98 460.7 100.4C459.5 102.5 473.1 107.4 479.4 107.5Z" fill="#1c6622"/>
<path d="M480 107.4C476.9 102.7 466.7 96.5 465.5 99.1C463.8 101.5 474.4 107.1 480 107.4Z" fill="#1c6622"/>
<path d="M480.3 107C478.1 102.2 469.5 94.2 468.1 96.3C466.3 97.9 475.2 105.5 480.3 107Z" fill="#1c6622"/>
<path d="M480.6 106.9C479.3 101.7 471.9 93.1 470 95.3C467.7 97 475.5 105.1 480.6 106.9Z" fill="#33902c"/>
<path d="M481.1 107.1C481.3 102.8 476.9 95.3 474.7 97C472.2 98.4 477.1 105.4 481.1 107.1Z" fill="#33902c"/>
<path d="M481.4 106.9C482.1 102.7 479.3 94.2 477.1 95.2C474.7 95.9 478.1 104.2 481.4 106.9Z" fill="#44aa34"/>
<path d="M481.7 107C483.2 103.1 481.8 94.9 479.2 95.7C476.6 96 478.6 104.1 481.7 107Z" fill="#44aa34"/>
<path d="M482.1 107.1C484.3 104.2 484.9 97.1 482.4 97.2C480 96.9 480 104.1 482.1 107.1Z" fill="#1c6622"/>
<path d="M482.3 106.9C485.2 103.9 486.9 95.7 484.2 95.5C481.6 94.8 480.5 103.1 482.3 106.9Z" fill="#33902c"/>
<path d="M482.6 106.9C486.3 104.2 489.7 95.7 487 95C484.4 93.7 481.6 102.4 482.6 106.9Z" fill="#33902c"/>
<path d="M482.8 106.9C487 104.6 491.7 96.4 489 95.3C486.6 93.7 482.4 102.2 482.8 106.9Z" fill="#1c6622"/>
<path d="M483.4 107C488.4 105.6 495.9 98 493.5 96.2C491.5 93.9 484.5 101.9 483.4 107Z" fill="#44aa34"/>
<path d="M483.7 107.1C489.2 105.9 498.6 98.7 496.6 96.7C495 94.3 486 102 483.7 107.1Z" fill="#44aa34"/>
<path d="M483.8 107.5C489.1 107.6 498.8 102.5 497 100C495.8 97.2 486.4 102.9 483.8 107.5Z" fill="#33902c"/>
<path d="M484.5 107.6C490.8 107.9 504.1 103.3 502.7 100.8C502.1 98 489.1 103.2 484.5 107.6Z" fill="#44aa34"/>
<path d="M484.2 108.2C489.4 110 501.1 108.6 500.4 105.8C500.3 103 488.7 105 484.2 108.2Z" fill="#33902c"/>
<path d="M484.3 108.6C489.4 111.2 501.7 112 501.5 109.4C501.9 106.8 489.6 106.5 484.3 108.6Z" fill="#33902c"/>
<path d="M484.5 109C489.5 112.7 502.6 115.8 502.9 112.9C503.9 110.1 490.6 107.6 484.5 109Z" fill="#33902c"/>
<path d="M484.2 109.4C488.2 113.3 499.6 118.2 500.3 115.7C501.5 113.5 489.8 109.2 484.2 109.4Z" fill="#33902c"/>
<path d="M480.2 110.6C475.5 109.8 465.9 112.8 467 115.2C467.6 117.7 477 114.1 480.2 110.6Z" fill="#33902c"/>
<path d="M479.8 110.4C474.6 108.7 463.2 110.5 464.1 113.3C464.3 116.2 475.6 113.8 479.8 110.4Z" fill="#44aa34"/>
<path d="M479.8 109.8C475.2 107.2 463.8 105.9 463.9 108.4C463.4 110.8 474.9 111.5 479.8 109.8Z" fill="#33902c"/>
<path d="M480.1 109.4C476.6 106 466.6 102.8 466.2 105.3C465.2 107.6 475.3 110.3 480.1 109.4Z" fill="#44aa34"/>
<path d="M480.3 109.1C477.7 104.9 468.8 100 467.8 102.8C466.2 105.3 475.4 109.6 480.3 109.1Z" fill="#44aa34"/>
<path d="M481.1 109.2C480.8 105.6 476.2 101 474.5 103C472.6 104.9 477.5 109.1 481.1 109.2Z" fill="#60c43e"/>
<path d="M481.1 108.9C481 105.1 476.7 99.4 474.8 101.2C472.7 102.7 477.4 108.1 481.1 108.9Z" fill="#44aa34"/>
<path d="M481.6 109.1C482.7 106.1 480.7 101.2 478.4 102.5C476 103.4 478.5 108.1 481.6 109.1Z" fill="#60c43e"/>
<path d="M481.8 109C483.8 106.4 483.2 101 480.5 101.6C477.8 101.9 479 107.2 481.8 109Z" fill="#44aa34"/>
<path d="M482 109.1C484.3 107 484.4 102.3 481.6 102.6C478.8 102.6 479.4 107.3 482 109.1Z" fill="#60c43e"/>
<path d="M482.2 109C484.8 107.3 486.3 102.1 483.9 101.7C481.6 101 480.6 106.3 482.2 109Z" fill="#33902c"/>
<path d="M482.5 108.9C486.1 107.7 489.2 102.2 486.5 101.1C483.9 99.6 481.3 105.4 482.5 108.9Z" fill="#44aa34"/>
<path d="M482.7 109.1C486.3 108.6 490.1 103.9 487.6 102.3C485.3 100.4 482 105.5 482.7 109.1Z" fill="#33902c"/>
<path d="M482.9 109.2C486.5 109 491.7 104.7 489.8 102.9C488.2 100.9 483.5 105.6 482.9 109.2Z" fill="#44aa34"/>
<path d="M483.5 109.2C487.9 109.8 495.7 106 494.1 103.5C493 100.9 485.4 105.3 483.5 109.2Z" fill="#33902c"/>
<path d="M484 109.4C489.3 110.6 500.2 107.6 499 104.8C498.4 101.8 487.7 105.4 484 109.4Z" fill="#33902c"/>
<path d="M484.8 109.9C491 112.1 505.6 111.7 505 108.8C505.3 105.8 490.7 106.9 484.8 109.9Z" fill="#33902c"/>
<path d="M484.6 110.5C490.1 113.8 504 116.6 504.1 113.9C504.9 111.4 490.9 109.2 484.6 110.5Z" fill="#44aa34"/>
<ellipse cx="482" cy="108.5" rx="16" ry="7.5" fill="#1c6622"/>
<ellipse cx="484" cy="112" rx="13" ry="6" fill="#0e3a14"/>
<ellipse cx="470" cy="104" rx="7" ry="4" fill="#1c6622"/>
<path d="M480 107C475.6 102.4 462.7 95.8 462 98.2C460.5 100.3 473.6 106.4 480 107Z" fill="#44aa34"/>
<path d="M480 108C473.9 104.4 458.1 100.6 458 103C457 105.2 472.9 108.6 480 108Z" fill="#33902c"/>
<path d="M479 109C471.9 106.5 454.6 105.5 455 108C454.4 110.5 471.7 110.9 479 109Z" fill="#60c43e"/>
<path d="M481 106C479.4 101.2 472 93.1 470.5 95C468.6 96.4 476.3 104.2 481 106Z" fill="#33902c"/>
<path d="M482 105C480.6 100.1 473.8 91.2 472.2 92.8C470.3 94 477.5 102.6 482 105Z" fill="#44aa34"/>
<path d="M483 105C482.6 101 477.7 94.4 476 96C474 97.3 479.2 103.6 483 105Z" fill="#60c43e"/>
<path d="M484 105C486.1 102.7 486 97.7 483.5 98C481 98 481.6 103.1 484 105Z" fill="#44aa34"/>
<path d="M485 106C488.8 104.9 494.1 98.9 492 97.5C490.2 95.7 485.4 102 485 106Z" fill="#33902c"/>
<path d="M486 107C489.9 108.5 497.6 106.6 496.6 104C496 101.2 488.5 103.7 486 107Z" fill="#44aa34"/>
<path d="M487 108C490.4 110.5 499 111.5 499 109C499.4 106.5 490.8 106.1 487 108Z" fill="#60c43e"/>
<path d="M478 111C470.5 110.5 453.8 114.6 455 117.2C455.3 120 471.7 115.3 478 111Z" fill="#78d24a"/>
<path d="M477 112.5C471.3 110.4 457.6 110.1 458 112.5C457.6 114.9 471.3 114.6 477 112.5Z" fill="#60c43e"/>
<path d="M480 113C474.7 113.5 464.5 119 466 121C467 123.3 476.9 117.3 480 113Z" fill="#44aa34"/>
<path d="M481 114C476.4 116.5 471.9 125.4 475.2 126.6C478.3 128.3 482.1 119.1 481 114Z" fill="#78d24a"/>
<path d="M483 114C480.8 117.4 481.6 124.7 484.6 124C487.7 123.7 486.2 116.6 483 114Z" fill="#78d24a"/>
<path d="M485 114C485.5 119.7 491.8 130 494.2 128C497 126.6 490 116.7 485 114Z" fill="#78d24a"/>
<path d="M487 113C489.7 118.6 499.8 128 501.4 125.6C503.5 123.7 493 114.9 487 113Z" fill="#78d24a"/>
<path d="M488 112C492.6 117.6 506.6 126.2 507.6 123.6C509.4 121.4 495.1 113.3 488 112Z" fill="#78d24a"/>
<path d="M488 110.5C493.1 114.8 507.2 119.1 507.6 116C508.8 113.1 494.6 109.5 488 110.5Z" fill="#60c43e"/>
<path d="M482 109C480.8 105.6 475.2 101.1 474 103C472.5 104.7 478.4 108.8 482 109Z" fill="#60c43e"/>
<path d="M483 109C486.3 107.7 490.1 102.1 488 101C486.1 99.6 482.7 105.5 483 109Z" fill="#78d24a"/>
<path d="M483 110C482.2 107.7 478.7 106 478 108C477.1 109.9 480.8 111.1 483 110Z" fill="#78d24a"/>
<path d="M484 111C487.5 111.2 493.3 107.8 492 106C491 104 485.3 107.8 484 111Z" fill="#60c43e"/>
<path d="M484 112C481.3 112.7 479.6 116.2 482 117C484.3 118 485.5 114.3 484 112Z" fill="#44aa34"/>
<path d="M486 111.5C488.3 114.2 494.8 115.5 495 113C495.6 110.5 489.1 109.7 486 111.5Z" fill="#44aa34"/>
<path d="M470 114.5C474.4 117.5 485.9 119.9 486 117.5C486.8 115.2 475.2 113.3 470 114.5Z" fill="#60c43e"/>
<path d="M354.6 111.1C358.5 112.2 368.1 112.6 367.8 111.5C368.1 110.3 358.6 110.2 354.6 111.1Z" fill="#1c6622" opacity="0.8"/>
<path d="M354.7 112.3C356.9 114.1 363 116.3 363.2 115.2C363.7 114.2 357.6 112.2 354.7 112.3Z" fill="#1c6622" opacity="0.8"/>
<path d="M351.9 112.4C352.2 114.3 354.4 118.1 355 117.7C355.7 117.4 353.4 113.7 351.9 112.4Z" fill="#0e3a14" opacity="0.8"/>
<path d="M351.4 112.7C351 114.1 351.7 117.1 352.4 116.9C353.2 116.8 352.4 113.8 351.4 112.7Z" fill="#0a2a10" opacity="0.8"/>
<path d="M350.4 113.1C349.5 114 348.7 116.5 349.4 116.6C350.1 116.9 350.7 114.4 350.4 113.1Z" fill="#1c6622" opacity="0.8"/>
<path d="M349.7 112.3C347.6 113.1 344 116.6 344.8 117.2C345.5 118.1 348.9 114.4 349.7 112.3Z" fill="#0a2a10" opacity="0.8"/>
<path d="M347.3 112.1C344.4 112.1 337.9 113.8 338.3 114.6C338.4 115.5 344.8 113.6 347.3 112.1Z" fill="#1c6622" opacity="0.8"/>
<path d="M346.4 110.7C343.2 109.6 335.5 109 335.7 109.9C335.4 110.7 343.1 111.2 346.4 110.7Z" fill="#0e3a14" opacity="0.8"/>
<path d="M348.9 109.3C348.1 107.4 344.7 104.5 344.1 105.4C343.4 106.2 346.9 108.9 348.9 109.3Z" fill="#0e3a14" opacity="0.8"/>
<path d="M350.3 109.3C350.4 107.4 348.9 103.5 348.1 103.9C347.2 104.1 348.9 108 350.3 109.3Z" fill="#0a2a10" opacity="0.8"/>
<path d="M351.6 108.9C352.8 108 353.6 105.4 352.5 105.2C351.4 104.9 350.9 107.5 351.6 108.9Z" fill="#0a2a10" opacity="0.8"/>
<path d="M352.4 109.5C354.4 108.7 357.6 105.3 356.7 104.7C355.9 103.8 352.9 107.4 352.4 109.5Z" fill="#0e3a14" opacity="0.8"/>
<path d="M353.6 109.1C355.8 108.6 359.9 105.8 359.2 105.1C358.6 104.1 354.7 107.1 353.6 109.1Z" fill="#1c6622" opacity="0.8"/>
<path d="M396.8 109.9C399.3 110.6 405 110 404.7 109C404.7 107.9 399.1 108.7 396.8 109.9Z" fill="#0e3a14" opacity="0.8"/>
<path d="M395.3 112.1C397.1 113.6 402 116.1 402.2 115.4C402.7 114.8 397.7 112.5 395.3 112.1Z" fill="#0e3a14" opacity="0.8"/>
<path d="M392.9 112.1C393 113.5 394.4 116.2 395 115.7C395.7 115.4 394.1 112.9 392.9 112.1Z" fill="#0e3a14" opacity="0.8"/>
<path d="M392.1 112.4C391.3 113.6 391.4 116.3 392.3 116.2C393.3 116.2 393 113.5 392.1 112.4Z" fill="#0e3a14" opacity="0.8"/>
<path d="M391.2 112.3C389.9 113.2 388.5 115.9 389.3 116.2C390.1 116.7 391.3 113.8 391.2 112.3Z" fill="#1c6622" opacity="0.8"/>
<path d="M390.2 111.9C388.5 112.3 385.5 114.5 386.1 115.1C386.6 115.9 389.5 113.5 390.2 111.9Z" fill="#0e3a14" opacity="0.8"/>
<path d="M387.4 111.6C384.9 111.4 379.3 112.7 379.7 113.5C379.8 114.4 385.3 112.9 387.4 111.6Z" fill="#0e3a14" opacity="0.8"/>
<path d="M389 109.9C386.4 108.6 379.9 107.2 379.9 108.1C379.5 108.9 386.2 110.1 389 109.9Z" fill="#0e3a14" opacity="0.8"/>
<path d="M389.9 108.5C388.9 106.3 385 102.5 384.4 103.5C383.5 104.2 387.5 107.7 389.9 108.5Z" fill="#0a2a10" opacity="0.8"/>
<path d="M391.3 108.3C391.5 106.2 390.1 101.8 389.3 102.2C388.4 102.3 389.9 106.7 391.3 108.3Z" fill="#0e3a14" opacity="0.8"/>
<path d="M392.2 107.9C393.4 106.5 393.8 103 392.6 103C391.5 102.8 391.3 106.3 392.2 107.9Z" fill="#0e3a14" opacity="0.8"/>
<path d="M394 107.6C395.6 106.8 397.8 103.8 397 103.4C396.4 102.8 394.3 105.9 394 107.6Z" fill="#1c6622" opacity="0.8"/>
<path d="M395.1 109.4C397.7 109.6 403.3 107.8 402.8 106.8C402.6 105.6 397.1 107.7 395.1 109.4Z" fill="#1c6622" opacity="0.8"/>
<path d="M438.5 109.1C441.1 110.5 447.7 111.8 447.7 110.7C448 109.7 441.4 108.7 438.5 109.1Z" fill="#0e3a14" opacity="0.8"/>
<path d="M437.7 110.3C438.6 112 441.9 114.4 442.4 113.5C443 112.7 439.6 110.5 437.7 110.3Z" fill="#1c6622" opacity="0.8"/>
<path d="M435.8 110.5C435.5 111.4 436.1 113.2 436.8 112.9C437.5 112.7 436.7 110.9 435.8 110.5Z" fill="#0e3a14" opacity="0.8"/>
<path d="M434.9 110.6C433.9 111.2 433.7 112.8 434.9 112.8C436 112.9 436 111.3 434.9 110.6Z" fill="#0e3a14" opacity="0.8"/>
<path d="M434.2 109.8C432.5 110.5 430.6 113.4 431.6 113.9C432.5 114.6 434.2 111.6 434.2 109.8Z" fill="#1c6622" opacity="0.8"/>
<path d="M432.7 110.1C430.7 110.5 427.1 112.9 427.8 113.7C428.3 114.6 431.8 111.9 432.7 110.1Z" fill="#0e3a14" opacity="0.8"/>
<path d="M430.5 108.7C427.1 108 418.9 108.3 419.1 109.3C419 110.3 427.1 109.8 430.5 108.7Z" fill="#1c6622" opacity="0.8"/>
<path d="M432 106.3C430.6 104 425.9 100.3 425.4 101.3C424.6 102.1 429.5 105.5 432 106.3Z" fill="#1c6622" opacity="0.8"/>
<path d="M433.6 106C433.6 104.3 432 101.3 431.3 101.9C430.4 102.3 432.2 105.2 433.6 106Z" fill="#0e3a14" opacity="0.8"/>
<path d="M434.7 106.2C435.3 104.3 434.8 100 433.9 100.2C432.9 100.2 433.6 104.5 434.7 106.2Z" fill="#0a2a10" opacity="0.8"/>
<path d="M436.1 105.8C437.3 104.6 438.8 101 438 100.8C437.4 100.5 436 104.1 436.1 105.8Z" fill="#1c6622" opacity="0.8"/>
<path d="M437.3 107.3C440.5 106.8 447.2 103.6 446.5 102.8C446.2 101.7 439.7 105.1 437.3 107.3Z" fill="#0e3a14" opacity="0.8"/>
<path d="M488 110.3C491.2 111.5 498.9 112.6 498.8 111.8C499.1 111 491.4 110 488 110.3Z" fill="#0a2a10" opacity="0.8"/>
<path d="M485.3 110.4C488.7 112.4 497.4 115 497.5 113.9C498.1 112.8 489.2 110.5 485.3 110.4Z" fill="#0e3a14" opacity="0.8"/>
<path d="M483.1 111C483.6 113 486.2 116.9 486.8 116.3C487.6 115.9 484.8 112.1 483.1 111Z" fill="#0e3a14" opacity="0.8"/>
<path d="M482.5 111.6C482 113 482.5 116 483.3 115.8C484.2 115.7 483.5 112.7 482.5 111.6Z" fill="#0e3a14" opacity="0.8"/>
<path d="M481.7 111.4C480.7 112.6 480.1 115.9 481.1 115.9C482 116.2 482.4 112.9 481.7 111.4Z" fill="#0a2a10" opacity="0.8"/>
<path d="M480.1 112C478.9 112.5 477.2 114.5 477.8 114.9C478.3 115.4 479.9 113.2 480.1 112Z" fill="#0e3a14" opacity="0.8"/>
<path d="M479.4 111C476.8 111.4 471.7 114.3 472.4 115.2C472.8 116.2 477.8 113.1 479.4 111Z" fill="#0a2a10" opacity="0.8"/>
<path d="M476.8 110.4C472.7 110.5 463.4 112 463.8 112.7C463.6 113.5 473 111.8 476.8 110.4Z" fill="#1c6622" opacity="0.8"/>
<path d="M477.1 108C474.1 106 466.1 103.4 466 104.6C465.4 105.6 473.5 107.9 477.1 108Z" fill="#0e3a14" opacity="0.8"/>
<path d="M478.4 107.4C477 105.6 472.8 103 472.4 103.8C471.9 104.5 476.2 107 478.4 107.4Z" fill="#0e3a14" opacity="0.8"/>
<path d="M480.8 107.5C480.4 105.5 478 101.3 477.4 101.8C476.7 102.1 479.3 106.1 480.8 107.5Z" fill="#0e3a14" opacity="0.8"/>
<path d="M481.2 106.5C481.5 105.1 480.9 102 480.2 102.2C479.4 102.3 480.3 105.4 481.2 106.5Z" fill="#1c6622" opacity="0.8"/>
<path d="M482.9 107C484.4 105.6 486 101.7 485 101.5C484 101 482.7 105 482.9 107Z" fill="#0a2a10" opacity="0.8"/>
<path d="M483.9 106.7C485.5 106.1 487.4 103.6 486.4 103C485.5 102.3 483.8 105 483.9 106.7Z" fill="#1c6622" opacity="0.8"/>
<path d="M486 107.7C489.3 107.2 496.5 104.2 495.9 103.4C495.7 102.4 488.6 105.6 486 107.7Z" fill="#0e3a14" opacity="0.8"/>
<path d="M361 109C365.9 110.1 375.7 107.2 374.5 104.5C373.8 101.6 364.2 105.2 361 109Z" fill="#44aa34"/>
<path d="M362 111C366.2 113 375.6 112.3 375 109.5C374.9 106.7 365.6 108.1 362 111Z" fill="#60c43e"/>
<path d="M384 109C380.9 105.1 371.3 100.8 370.5 103.5C369.2 106 379 109.6 384 109Z" fill="#33902c"/>
<path d="M383 111C379.3 108.1 369.6 106.3 369.5 109C368.8 111.6 378.6 112.7 383 111Z" fill="#44aa34"/>
<path d="M402 109C406.9 109.8 416.7 106.5 415.5 104C414.8 101.3 405.2 105.2 402 109Z" fill="#44aa34"/>
<path d="M403 111.5C407 114 416.7 114.7 416.5 112C416.9 109.4 407.1 109.3 403 111.5Z" fill="#60c43e"/>
<path d="M426 108C421.7 105.6 411.3 105 411.5 107.5C411.1 110 421.6 110.1 426 108Z" fill="#33902c"/>
<path d="M425 110.5C420.8 109.1 411.8 110.6 412.5 113C412.7 115.5 421.7 113.4 425 110.5Z" fill="#44aa34"/>
<path d="M445 110C449 112.7 459 114 459 111.5C459.5 109 449.4 108.2 445 110Z" fill="#60c43e"/>
<path d="M446 112C450.1 115 460.8 117.4 461 115C461.8 112.7 450.9 110.8 446 112Z" fill="#44aa34"/>
<path d="M470 110C464.8 108.2 452.9 109 453.5 111.5C453.4 114 465.3 112.7 470 110Z" fill="#44aa34"/>
<path d="M469 113C463.7 111.5 451.8 113.1 452.5 115.5C452.5 118 464.4 116 469 113Z" fill="#60c43e"/>
</g>
<text class="ph" x="348.7" y="128.8">T3-1</text>
<text class="ph" x="391.2" y="128.8">T3-2</text>
<text class="ph" x="437.3" y="128.8">T3-3</text>
<text class="ph" x="483.7" y="128.8">WT</text>
<rect x="510.1" y="113.9" width="1" height="7.2" fill="#fff"/>

</g>
</g>
<g id="panel-c">
<text class="pl" style="font-size:16.2px" x="518.3" y="14.6">(c)</text>
<rect x="566.05" y="72.44" width="14.5" height="25.38" fill="#fca8fc" stroke="#2a2a2a" stroke-width="1.25"/>
<rect x="566.05" y="97.82" width="14.5" height="57.51" fill="#b2eca8" stroke="#2a2a2a" stroke-width="1.25"/>
<rect x="566.05" y="155.33" width="14.5" height="25.67" fill="#c8c6fc" stroke="#2a2a2a" stroke-width="1.25"/>
<path d="M573.3 155.33V154.37M569.4 154.37H577.2" stroke="#2a2a2a" stroke-width="1.05" fill="none"/>
<path d="M573.3 97.82V95.12M569.4 95.12H577.2" stroke="#2a2a2a" stroke-width="1.05" fill="none"/>
<path d="M573.3 72.44V70.02M569.4 70.02H577.2" stroke="#2a2a2a" stroke-width="1.05" fill="none"/>
<rect x="596.15" y="46.58" width="14.5" height="12.83" fill="#fca8fc" stroke="#2a2a2a" stroke-width="1.25"/>
<rect x="596.15" y="59.41" width="14.5" height="78.16" fill="#b2eca8" stroke="#2a2a2a" stroke-width="1.25"/>
<rect x="596.15" y="137.57" width="14.5" height="43.43" fill="#c8c6fc" stroke="#2a2a2a" stroke-width="1.25"/>
<path d="M603.4 137.57V137.09M599.5 137.09H607.3" stroke="#2a2a2a" stroke-width="1.05" fill="none"/>
<path d="M603.4 59.41V56.51M599.5 56.51H607.3" stroke="#2a2a2a" stroke-width="1.05" fill="none"/>
<path d="M603.4 46.58V46M599.5 46H607.3" stroke="#2a2a2a" stroke-width="1.05" fill="none"/>
<rect x="626.25" y="57.29" width="14.5" height="0.97" fill="#fca8fc" stroke="#2a2a2a" stroke-width="1.25"/>
<rect x="626.25" y="58.25" width="14.5" height="89.94" fill="#b2eca8" stroke="#2a2a2a" stroke-width="1.25"/>
<rect x="626.25" y="148.19" width="14.5" height="32.81" fill="#c8c6fc" stroke="#2a2a2a" stroke-width="1.25"/>
<path d="M633.5 148.19V146.26M629.6 146.26H637.4" stroke="#2a2a2a" stroke-width="1.05" fill="none"/>
<rect x="656.45" y="61.34" width="14.5" height="4.83" fill="#fca8fc" stroke="#2a2a2a" stroke-width="1.25"/>
<rect x="656.45" y="66.16" width="14.5" height="82.99" fill="#b2eca8" stroke="#2a2a2a" stroke-width="1.25"/>
<rect x="656.45" y="149.16" width="14.5" height="31.84" fill="#c8c6fc" stroke="#2a2a2a" stroke-width="1.25"/>
<path d="M663.7 149.16V148.67M659.8 148.67H667.6" stroke="#2a2a2a" stroke-width="1.05" fill="none"/>
<path d="M558.3 26.1V181.7" stroke="#111" stroke-width="1.3" fill="none"/>
<path d="M557.7 180.75H676" stroke="#111" stroke-width="1.25" fill="none"/>
<path d="M554.5 181H558.3" stroke="#111" stroke-width="1.1"/>
<text class="ct" x="554" y="183.9">0</text>
<path d="M554.5 161.7H558.3" stroke="#111" stroke-width="1.1"/>
<text class="ct" x="554" y="164.6">2</text>
<path d="M554.5 142.4H558.3" stroke="#111" stroke-width="1.1"/>
<text class="ct" x="554" y="145.3">4</text>
<path d="M554.5 123.1H558.3" stroke="#111" stroke-width="1.1"/>
<text class="ct" x="554" y="126">6</text>
<path d="M554.5 103.8H558.3" stroke="#111" stroke-width="1.1"/>
<text class="ct" x="554" y="106.7">8</text>
<path d="M554.5 84.5H558.3" stroke="#111" stroke-width="1.1"/>
<text class="ct" x="554" y="87.4">10</text>
<path d="M554.5 65.2H558.3" stroke="#111" stroke-width="1.1"/>
<text class="ct" x="554" y="68.1">12</text>
<path d="M554.5 45.9H558.3" stroke="#111" stroke-width="1.1"/>
<text class="ct" x="554" y="48.8">14</text>
<path d="M554.5 26.6H558.3" stroke="#111" stroke-width="1.1"/>
<text class="ct" x="554" y="29.5">16</text>
<path d="M573.3 181V184.5" stroke="#111" stroke-width="1.1"/>
<text class="cx" x="573.3" y="191.5">WT</text>
<path d="M603.4 181V184.5" stroke="#111" stroke-width="1.1"/>
<text class="cx" x="604.6" y="191.5">T3-1</text>
<path d="M633.5 181V184.5" stroke="#111" stroke-width="1.1"/>
<text class="cx" x="634.7" y="191.5">T3-2</text>
<path d="M663.7 181V184.5" stroke="#111" stroke-width="1.1"/>
<text class="cx" x="664.9" y="191.5">T3-3</text>
<text class="cy" transform="translate(539.2 103.9) rotate(-90)">Content (mg/g)</text>
<rect x="569.4" y="25.9" width="9.9" height="6.6" rx="0.8" fill="#c8c6fc" stroke="#2a2a2a" stroke-width="1.1"/>
<text class="cl" x="585.3" y="32.2">Fru</text>
<rect x="603.4" y="25.9" width="9.9" height="6.6" rx="0.8" fill="#b2eca8" stroke="#2a2a2a" stroke-width="1.1"/>
<text class="cl" x="619.1" y="32.2">Glc</text>
<rect x="637.5" y="25.9" width="9.9" height="6.6" rx="0.8" fill="#fca8fc" stroke="#2a2a2a" stroke-width="1.1"/>
<text class="cl" x="652.9" y="32.2">Suc</text>
<text class="cr" x="573.5" y="66.6">c</text>
<text class="cr" x="603.6" y="42.5">a</text>
<text class="cr" x="634" y="53.1">b</text>
<text class="cr" x="664.3" y="57.3">b</text>
<text class="cb" x="588.3" y="76">a</text>
<text class="cb" x="619.4" y="52.4">b</text>
<text class="cb" x="651.7" y="57.8">d</text>
<text class="cb" x="680.8" y="62">c</text>
<text class="cb" x="573.3" y="107">c</text>
<text class="cb" x="604" y="71.3">b</text>
<text class="cb" x="633.4" y="68.7">a</text>
<text class="cb" x="664" y="76.5">b</text>
<text class="cb" x="573.3" y="164.7">c</text>
<text class="cb" x="603.6" y="146.6">a</text>
<text class="cb" x="634" y="159.1">b</text>
<text class="cb" x="664" y="162.2">b</text>
<path d="M578.5 77.8L585 74" stroke="#222" stroke-width="0.9"/>
<path d="M608.5 53.4L615.8 49.3" stroke="#222" stroke-width="0.9"/>
<path d="M640.5 57.2L647.5 54.3" stroke="#222" stroke-width="0.9"/>
<path d="M670.5 62.4L677 59.5" stroke="#222" stroke-width="0.9"/>
</g>
<g id="panel-d">
<text class="pl" style="font-size:15.9px" x="0.3" y="210.4">(d)</text>
<rect x="76.35" y="223.8" width="12.1" height="43" fill="#8cbcfc"/>
<path d="M76.35 266.8V223.8H88.45V266.8" fill="none" stroke="#000" stroke-width="1.9"/>
<rect x="76.35" y="277.3" width="12.1" height="63.6" fill="#8cbcfc"/>
<path d="M76.35 277.3V340.9M88.45 277.3V340.9" fill="none" stroke="#000" stroke-width="1.9"/>
<path d="M82.4 223.8V221.3M78.8 221.3H86" stroke="#000" stroke-width="1.5" fill="none"/>
<rect x="98.45" y="241.8" width="12.1" height="25" fill="#b4f8e0"/>
<path d="M98.45 266.8V241.8H110.55V266.8" fill="none" stroke="#000" stroke-width="1.9"/>
<rect x="98.45" y="277.3" width="12.1" height="63.6" fill="#b4f8e0"/>
<path d="M98.45 277.3V340.9M110.55 277.3V340.9" fill="none" stroke="#000" stroke-width="1.9"/>
<path d="M104.5 241.8V235.9M100.9 235.9H108.1" stroke="#000" stroke-width="1.5" fill="none"/>
<rect x="120.55" y="246.3" width="12.1" height="20.5" fill="#a0f8a0"/>
<path d="M120.55 266.8V246.3H132.65V266.8" fill="none" stroke="#000" stroke-width="1.9"/>
<rect x="120.55" y="277.3" width="12.1" height="63.6" fill="#a0f8a0"/>
<path d="M120.55 277.3V340.9M132.65 277.3V340.9" fill="none" stroke="#000" stroke-width="1.9"/>
<path d="M126.6 246.3V242.6M123 242.6H130.2" stroke="#000" stroke-width="1.5" fill="none"/>
<rect x="142.65" y="251.8" width="12.1" height="15" fill="#f8fcc0"/>
<path d="M142.65 266.8V251.8H154.75V266.8" fill="none" stroke="#000" stroke-width="1.9"/>
<rect x="142.65" y="277.3" width="12.1" height="63.6" fill="#f8fcc0"/>
<path d="M142.65 277.3V340.9M154.75 277.3V340.9" fill="none" stroke="#000" stroke-width="1.9"/>
<path d="M148.7 251.8V244.1M145.1 244.1H152.3" stroke="#000" stroke-width="1.5" fill="none"/>
<rect x="179.45" y="298.4" width="12.3" height="42.5" fill="#8cbcfc" stroke="#000" stroke-width="1.9"/>
<path d="M185.6 298.4V293.7M182 293.7H189.2" stroke="#000" stroke-width="1.5" fill="none"/>
<rect x="201.85" y="307.6" width="12.3" height="33.3" fill="#b4f8e0" stroke="#000" stroke-width="1.9"/>
<path d="M208 307.6V303.2M204.4 303.2H211.6" stroke="#000" stroke-width="1.5" fill="none"/>
<rect x="224.15" y="305.9" width="12.3" height="35" fill="#a0f8a0" stroke="#000" stroke-width="1.9"/>
<path d="M230.3 305.9V304M226.7 304H233.9" stroke="#000" stroke-width="1.5" fill="none"/>
<rect x="246.25" y="300" width="12.3" height="40.9" fill="#f8fcc0" stroke="#000" stroke-width="1.9"/>
<path d="M252.4 300V295.4M248.8 295.4H256" stroke="#000" stroke-width="1.5" fill="none"/>
<path d="M64 202.6V266.8M64 277.8V341.8" stroke="#000" stroke-width="2" fill="none"/>
<path d="M65.9 265.8L61.1 270.2M65.9 273.9L61.1 278.6" stroke="#000" stroke-width="1.6" fill="none"/>
<path d="M63 341.1H271.6" stroke="#000" stroke-width="1.9" fill="none"/>
<path d="M60 203.5H64" stroke="#000" stroke-width="1.6"/>
<text class="dt" x="59.4" y="207.5">30</text>
<path d="M60 219.4H64" stroke="#000" stroke-width="1.6"/>
<text class="dt" x="59.4" y="223.4">25</text>
<path d="M60 235.3H64" stroke="#000" stroke-width="1.6"/>
<text class="dt" x="59.4" y="239.3">20</text>
<path d="M60 251.2H64" stroke="#000" stroke-width="1.6"/>
<text class="dt" x="59.4" y="255.2">15</text>
<text class="dt" style="font-size:11px" x="58.9" y="271.4">10</text>
<text class="dt" style="font-size:11px" x="59.0" y="282.4">2</text>
<path d="M60 309.1H64" stroke="#000" stroke-width="1.6"/>
<text class="dt" x="59.4" y="313.1">1</text>
<path d="M60 340.9H64" stroke="#000" stroke-width="1.6"/>
<text class="dt" x="59.4" y="344.9">0</text>
<path d="M115.8 340.9V344.3" stroke="#000" stroke-width="1.6"/>
<path d="M219 340.9V344.3" stroke="#000" stroke-width="1.6"/>
<text class="dx" x="115.8" y="356.2">Sucrose synthase</text>
<text class="dx" x="219.1" y="356.2">Invertase</text>
<text class="dy" transform="translate(38.6 273.4) rotate(-90)">Enzyme activity (U/mL)</text>
<rect x="84.75" y="202.05" width="9.1" height="5.9" fill="#8cbcfc" stroke="#000" stroke-width="2.1"/>
<text class="dl" x="101.6" y="208.5">WT</text>
<rect x="124.95" y="202.05" width="9.1" height="5.9" fill="#b4f8e0" stroke="#000" stroke-width="2.1"/>
<text class="dl" x="141.3" y="208.5">T3-1</text>
<rect x="170.05" y="202.05" width="9.1" height="5.9" fill="#a0f8a0" stroke="#000" stroke-width="2.1"/>
<text class="dl" x="186.4" y="208.5">T3-2</text>
<rect x="216.75" y="202.05" width="9.1" height="5.9" fill="#f8fcc0" stroke="#000" stroke-width="2.1"/>
<text class="dl" x="233.2" y="208.5">T3-3</text>
<text class="db" x="82.1" y="218.5">a</text>
<text class="db" x="104.6" y="231.1">b</text>
<text class="db" x="126.4" y="237">b</text>
<text class="db" x="149" y="238">b</text>
</g>
<g id="panel-e">
<text class="pl" x="303.0" y="177.6">(e)</text>
<rect x="340.05" y="240.9" width="4.9" height="92.9" fill="#8cc4fc" stroke="#111" stroke-width="1.3"/>
<text class="eb" x="342.5" y="238.3">a</text>
<rect x="347.5" y="266" width="4.9" height="67.8" fill="#b4f8fc" stroke="#111" stroke-width="1.3"/>
<path d="M349.95 266V264.1M347.85 264.1H352.05" stroke="#111" stroke-width="1.2" fill="none"/>
<text class="eb" x="349.95" y="261.5">b</text>
<rect x="354.95" y="309.3" width="4.9" height="24.5" fill="#a0f0a0" stroke="#111" stroke-width="1.3"/>
<path d="M357.4 309.3V308.7M355.3 308.7H359.5" stroke="#111" stroke-width="1.2" fill="none"/>
<text class="eb" x="357.4" y="306.1">d</text>
<rect x="362.4" y="275.6" width="4.9" height="58.2" fill="#fcf8cc" stroke="#111" stroke-width="1.3"/>
<path d="M364.85 275.6V274.6M362.75 274.6H366.95" stroke="#111" stroke-width="1.2" fill="none"/>
<text class="eb" x="364.85" y="272">c</text>
<rect x="374.95" y="240.9" width="4.9" height="92.9" fill="#8cc4fc" stroke="#111" stroke-width="1.3"/>
<text class="eb" x="377.4" y="238.3">a</text>
<rect x="382.4" y="277.8" width="4.9" height="56" fill="#b4f8fc" stroke="#111" stroke-width="1.3"/>
<path d="M384.85 277.8V274.1M382.75 274.1H386.95" stroke="#111" stroke-width="1.2" fill="none"/>
<text class="eb" x="384.85" y="271.5">b</text>
<rect x="389.85" y="291.6" width="4.9" height="42.2" fill="#a0f0a0" stroke="#111" stroke-width="1.3"/>
<path d="M392.3 291.6V288.2M390.2 288.2H394.4" stroke="#111" stroke-width="1.2" fill="none"/>
<text class="eb" x="392.3" y="285.6">c</text>
<rect x="397.3" y="276.8" width="4.9" height="57" fill="#fcf8cc" stroke="#111" stroke-width="1.3"/>
<path d="M399.75 276.8V274.1M397.65 274.1H401.85" stroke="#111" stroke-width="1.2" fill="none"/>
<text class="eb" x="399.75" y="271.5">b</text>
<rect x="409.85" y="240.9" width="4.9" height="92.9" fill="#8cc4fc" stroke="#111" stroke-width="1.3"/>
<text class="eb" x="412.3" y="238.3">a</text>
<rect x="417.3" y="292.4" width="4.9" height="41.4" fill="#b4f8fc" stroke="#111" stroke-width="1.3"/>
<path d="M419.75 292.4V290.6M417.65 290.6H421.85" stroke="#111" stroke-width="1.2" fill="none"/>
<text class="eb" x="419.75" y="288">c</text>
<rect x="424.75" y="325" width="4.9" height="8.8" fill="#a0f0a0" stroke="#111" stroke-width="1.3"/>
<text class="eb" x="427.2" y="322.4">d</text>
<rect x="432.2" y="278.5" width="4.9" height="55.3" fill="#fcf8cc" stroke="#111" stroke-width="1.3"/>
<path d="M434.65 278.5V275.6M432.55 275.6H436.75" stroke="#111" stroke-width="1.2" fill="none"/>
<text class="eb" x="434.65" y="273">b</text>
<rect x="444.75" y="240.9" width="4.9" height="92.9" fill="#8cc4fc" stroke="#111" stroke-width="1.3"/>
<text class="eb" x="447.2" y="238.3">a</text>
<rect x="452.2" y="260.6" width="4.9" height="73.2" fill="#b4f8fc" stroke="#111" stroke-width="1.3"/>
<path d="M454.65 260.6V257.6M452.55 257.6H456.75" stroke="#111" stroke-width="1.2" fill="none"/>
<text class="eb" x="454.65" y="255">b</text>
<rect x="459.65" y="286.2" width="4.9" height="47.6" fill="#a0f0a0" stroke="#111" stroke-width="1.3"/>
<path d="M462.1 286.2V280.7M460 280.7H464.2" stroke="#111" stroke-width="1.2" fill="none"/>
<text class="eb" x="462.1" y="278.1">c</text>
<rect x="467.1" y="303.8" width="4.9" height="30" fill="#fcf8cc" stroke="#111" stroke-width="1.3"/>
<path d="M469.55 303.8V301.9M467.45 301.9H471.65" stroke="#111" stroke-width="1.2" fill="none"/>
<text class="eb" x="469.55" y="299.3">d</text>
<rect x="479.65" y="240.9" width="4.9" height="92.9" fill="#8cc4fc" stroke="#111" stroke-width="1.3"/>
<text class="eb" x="482.1" y="238.3">a</text>
<rect x="487.1" y="265.3" width="4.9" height="68.5" fill="#b4f8fc" stroke="#111" stroke-width="1.3"/>
<path d="M489.55 265.3V262.4M487.45 262.4H491.65" stroke="#111" stroke-width="1.2" fill="none"/>
<text class="eb" x="489.55" y="259.8">b</text>
<rect x="494.55" y="309.3" width="4.9" height="24.5" fill="#a0f0a0" stroke="#111" stroke-width="1.3"/>
<path d="M497 309.3V305.6M494.9 305.6H499.1" stroke="#111" stroke-width="1.2" fill="none"/>
<text class="eb" x="497" y="303">c</text>
<rect x="502" y="308.2" width="4.9" height="25.6" fill="#fcf8cc" stroke="#111" stroke-width="1.3"/>
<path d="M504.45 308.2V307.7M502.35 307.7H506.55" stroke="#111" stroke-width="1.2" fill="none"/>
<text class="eb" x="504.45" y="305.1">c</text>
<rect x="514.55" y="240.9" width="4.9" height="92.9" fill="#8cc4fc" stroke="#111" stroke-width="1.3"/>
<text class="eb" x="517" y="238.3">a</text>
<rect x="522" y="264.6" width="4.9" height="69.2" fill="#b4f8fc" stroke="#111" stroke-width="1.3"/>
<path d="M524.45 264.6V260.9M522.35 260.9H526.55" stroke="#111" stroke-width="1.2" fill="none"/>
<text class="eb" x="524.45" y="258.3">b</text>
<rect x="529.45" y="319.6" width="4.9" height="14.2" fill="#a0f0a0" stroke="#111" stroke-width="1.3"/>
<path d="M531.9 319.6V319.2M529.8 319.2H534" stroke="#111" stroke-width="1.2" fill="none"/>
<text class="eb" x="531.9" y="316.6">d</text>
<rect x="536.9" y="301.5" width="4.9" height="32.3" fill="#fcf8cc" stroke="#111" stroke-width="1.3"/>
<path d="M539.35 301.5V298.5M537.25 298.5H541.45" stroke="#111" stroke-width="1.2" fill="none"/>
<text class="eb" x="539.35" y="295.9">c</text>
<path d="M336 193.7V334.5" stroke="#111" stroke-width="1.5" fill="none"/>
<path d="M335.3 333.8H547.2" stroke="#111" stroke-width="1.5" fill="none"/>
<path d="M332.4 194.45H336" stroke="#111" stroke-width="1.2"/>
<text class="et" x="333.0" y="197.35">1.5</text>
<path d="M332.4 240.9H336" stroke="#111" stroke-width="1.2"/>
<text class="et" x="333.0" y="243.8">1.0</text>
<path d="M332.4 287.35H336" stroke="#111" stroke-width="1.2"/>
<text class="et" x="333.0" y="290.25">0.5</text>
<path d="M332.4 333.8H336" stroke="#111" stroke-width="1.2"/>
<text class="et" x="333.0" y="336.7">0.0</text>
<path d="M353.7 333.8V337.3" stroke="#111" stroke-width="1.2"/>
<text class="ex" transform="translate(356.1 346.6) rotate(-45)">AtSUS1</text>
<path d="M388.57 333.8V337.3" stroke="#111" stroke-width="1.2"/>
<text class="ex" transform="translate(390.97 346.6) rotate(-45)">AtSUS2</text>
<path d="M423.44 333.8V337.3" stroke="#111" stroke-width="1.2"/>
<text class="ex" transform="translate(425.84 346.6) rotate(-45)">AtSUS3</text>
<path d="M458.31 333.8V337.3" stroke="#111" stroke-width="1.2"/>
<text class="ex" transform="translate(460.71 346.6) rotate(-45)">AtSUS4</text>
<path d="M493.18 333.8V337.3" stroke="#111" stroke-width="1.2"/>
<text class="ex" transform="translate(495.58 346.6) rotate(-45)">AtSUS5</text>
<path d="M528.05 333.8V337.3" stroke="#111" stroke-width="1.2"/>
<text class="ex" transform="translate(530.45 346.6) rotate(-45)">AtSUS6</text>
<text class="ey" transform="translate(310.2 260.6) rotate(-90)">Relative Expression</text>
<rect x="357.1" y="194.5" width="8.5" height="8.0" fill="#8cc4fc" stroke="#111" stroke-width="1.4"/>
<text class="el" x="371.2" y="202.0">WT</text>
<rect x="399.9" y="194.5" width="8.5" height="8.0" fill="#b4f8fc" stroke="#111" stroke-width="1.4"/>
<text class="el" x="413.5" y="202.0">T3-1</text>
<rect x="446.9" y="194.5" width="8.5" height="8.0" fill="#a0f0a0" stroke="#111" stroke-width="1.4"/>
<text class="el" x="461" y="202.0">T3-2</text>
<rect x="494.9" y="194.5" width="8.5" height="8.0" fill="#fcf8cc" stroke="#111" stroke-width="1.4"/>
<text class="el" x="509.2" y="202.0">T3-3</text>
</g>
</svg>
</body></html>
